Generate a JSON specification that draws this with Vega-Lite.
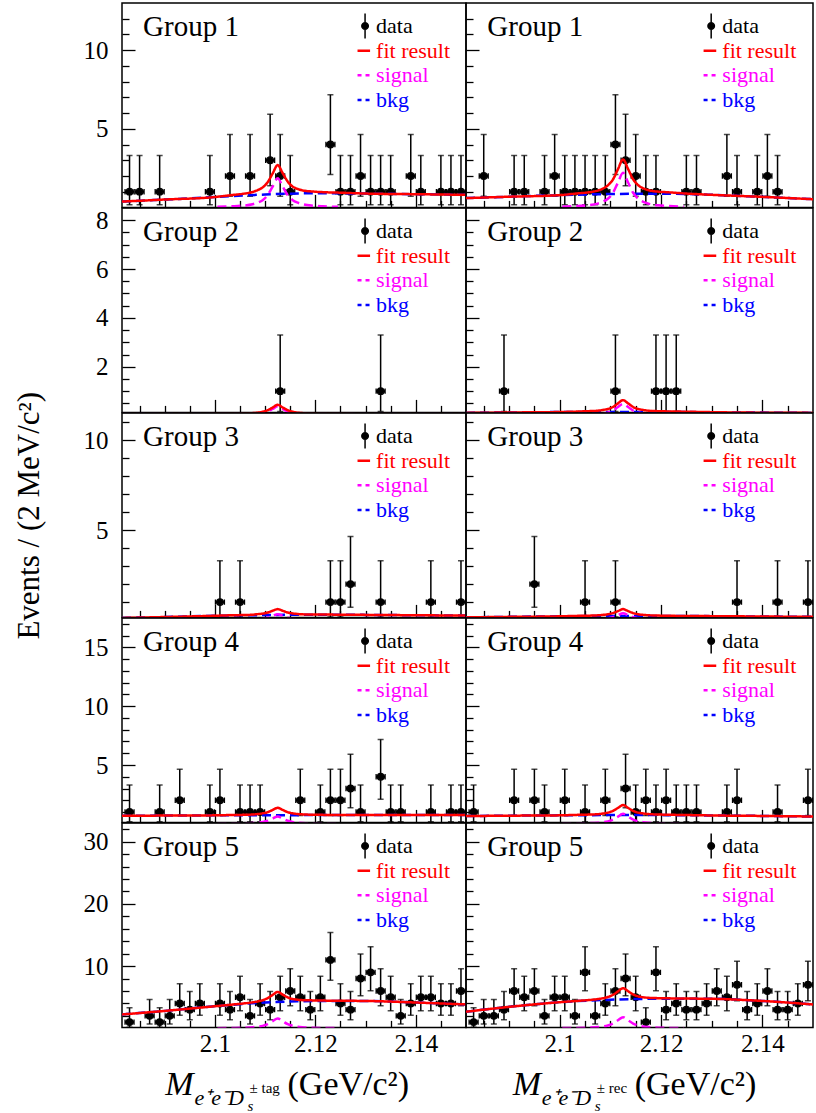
{
"$schema":"https://vega.github.io/schema/vega-lite/v6.json",
"background":"white",
"padding":{"left":12,"top":2,"right":0,"bottom":0},
"columns":2,
"spacing":0,
"bounds":"flush",
"datasets":{
"leg":[{"c":"data"},{"c":"fit result"},{"c":"signal"},{"c":"bkg"}],
"all":[
{"g":1,"s":"t","k":"p","m":2.083,"n":1,"lo":0.17,"hi":3.3},
{"g":1,"s":"t","k":"p","m":2.085,"n":1,"lo":0.17,"hi":3.3},
{"g":1,"s":"t","k":"p","m":2.089,"n":1,"lo":0.17,"hi":3.3},
{"g":1,"s":"t","k":"p","m":2.099,"n":1,"lo":0.17,"hi":3.3},
{"g":1,"s":"t","k":"p","m":2.103,"n":2,"lo":0.71,"hi":4.64},
{"g":1,"s":"t","k":"p","m":2.107,"n":2,"lo":0.71,"hi":4.64},
{"g":1,"s":"t","k":"p","m":2.111,"n":3,"lo":1.37,"hi":5.92},
{"g":1,"s":"t","k":"p","m":2.113,"n":2,"lo":0.71,"hi":4.64},
{"g":1,"s":"t","k":"p","m":2.115,"n":1,"lo":0.17,"hi":3.3},
{"g":1,"s":"t","k":"p","m":2.123,"n":4,"lo":2.09,"hi":7.16},
{"g":1,"s":"t","k":"p","m":2.125,"n":1,"lo":0.17,"hi":3.3},
{"g":1,"s":"t","k":"p","m":2.127,"n":1,"lo":0.17,"hi":3.3},
{"g":1,"s":"t","k":"p","m":2.129,"n":2,"lo":0.71,"hi":4.64},
{"g":1,"s":"t","k":"p","m":2.131,"n":1,"lo":0.17,"hi":3.3},
{"g":1,"s":"t","k":"p","m":2.133,"n":1,"lo":0.17,"hi":3.3},
{"g":1,"s":"t","k":"p","m":2.135,"n":1,"lo":0.17,"hi":3.3},
{"g":1,"s":"t","k":"p","m":2.139,"n":2,"lo":0.71,"hi":4.64},
{"g":1,"s":"t","k":"p","m":2.141,"n":1,"lo":0.17,"hi":3.3},
{"g":1,"s":"t","k":"p","m":2.145,"n":1,"lo":0.17,"hi":3.3},
{"g":1,"s":"t","k":"p","m":2.147,"n":1,"lo":0.17,"hi":3.3},
{"g":1,"s":"t","k":"p","m":2.149,"n":1,"lo":0.17,"hi":3.3},
{"g":1,"s":"t","k":"c","c":"bkg","m":2.0815,"v":0.37},
{"g":1,"s":"t","k":"c","c":"bkg","m":2.09,"v":0.5},
{"g":1,"s":"t","k":"c","c":"bkg","m":2.1,"v":0.66},
{"g":1,"s":"t","k":"c","c":"bkg","m":2.11,"v":0.82},
{"g":1,"s":"t","k":"c","c":"bkg","m":2.12,"v":0.9},
{"g":1,"s":"t","k":"c","c":"bkg","m":2.13,"v":0.88},
{"g":1,"s":"t","k":"c","c":"bkg","m":2.14,"v":0.84},
{"g":1,"s":"t","k":"c","c":"bkg","m":2.15,"v":0.8},
{"g":1,"s":"t","k":"c","c":"signal","m":2.1005,"v":0.04},
{"g":1,"s":"t","k":"c","c":"signal","m":2.1035,"v":0.07},
{"g":1,"s":"t","k":"c","c":"signal","m":2.1055,"v":0.11},
{"g":1,"s":"t","k":"c","c":"signal","m":2.1075,"v":0.2},
{"g":1,"s":"t","k":"c","c":"signal","m":2.1085,"v":0.3},
{"g":1,"s":"t","k":"c","c":"signal","m":2.1095,"v":0.46},
{"g":1,"s":"t","k":"c","c":"signal","m":2.1105,"v":0.78},
{"g":1,"s":"t","k":"c","c":"signal","m":2.1115,"v":1.33},
{"g":1,"s":"t","k":"c","c":"signal","m":2.1125,"v":1.85},
{"g":1,"s":"t","k":"c","c":"signal","m":2.1135,"v":1.33},
{"g":1,"s":"t","k":"c","c":"signal","m":2.1145,"v":0.78},
{"g":1,"s":"t","k":"c","c":"signal","m":2.1155,"v":0.46},
{"g":1,"s":"t","k":"c","c":"signal","m":2.1165,"v":0.3},
{"g":1,"s":"t","k":"c","c":"signal","m":2.1175,"v":0.2},
{"g":1,"s":"t","k":"c","c":"signal","m":2.1195,"v":0.11},
{"g":1,"s":"t","k":"c","c":"signal","m":2.1215,"v":0.07},
{"g":1,"s":"t","k":"c","c":"signal","m":2.1245,"v":0.04},
{"g":1,"s":"t","k":"c","c":"fit result","m":2.0815,"v":0.37},
{"g":1,"s":"t","k":"c","c":"fit result","m":2.09,"v":0.5},
{"g":1,"s":"t","k":"c","c":"fit result","m":2.1,"v":0.66},
{"g":1,"s":"t","k":"c","c":"fit result","m":2.1035,"v":0.79},
{"g":1,"s":"t","k":"c","c":"fit result","m":2.1055,"v":0.86},
{"g":1,"s":"t","k":"c","c":"fit result","m":2.1075,"v":0.98},
{"g":1,"s":"t","k":"c","c":"fit result","m":2.1085,"v":1.1},
{"g":1,"s":"t","k":"c","c":"fit result","m":2.1095,"v":1.27},
{"g":1,"s":"t","k":"c","c":"fit result","m":2.1105,"v":1.6},
{"g":1,"s":"t","k":"c","c":"fit result","m":2.1115,"v":2.16},
{"g":1,"s":"t","k":"c","c":"fit result","m":2.1125,"v":2.69},
{"g":1,"s":"t","k":"c","c":"fit result","m":2.1135,"v":2.18},
{"g":1,"s":"t","k":"c","c":"fit result","m":2.1145,"v":1.64},
{"g":1,"s":"t","k":"c","c":"fit result","m":2.1155,"v":1.32},
{"g":1,"s":"t","k":"c","c":"fit result","m":2.1165,"v":1.17},
{"g":1,"s":"t","k":"c","c":"fit result","m":2.1175,"v":1.08},
{"g":1,"s":"t","k":"c","c":"fit result","m":2.1195,"v":1.01},
{"g":1,"s":"t","k":"c","c":"fit result","m":2.1215,"v":0.97},
{"g":1,"s":"t","k":"c","c":"fit result","m":2.1245,"v":0.94},
{"g":1,"s":"t","k":"c","c":"fit result","m":2.13,"v":0.88},
{"g":1,"s":"t","k":"c","c":"fit result","m":2.14,"v":0.84},
{"g":1,"s":"t","k":"c","c":"fit result","m":2.15,"v":0.8},
{"g":1,"s":"r","k":"p","m":2.085,"n":2,"lo":0.71,"hi":4.64},
{"g":1,"s":"r","k":"p","m":2.091,"n":1,"lo":0.17,"hi":3.3},
{"g":1,"s":"r","k":"p","m":2.093,"n":1,"lo":0.17,"hi":3.3},
{"g":1,"s":"r","k":"p","m":2.097,"n":1,"lo":0.17,"hi":3.3},
{"g":1,"s":"r","k":"p","m":2.099,"n":2,"lo":0.71,"hi":4.64},
{"g":1,"s":"r","k":"p","m":2.101,"n":1,"lo":0.17,"hi":3.3},
{"g":1,"s":"r","k":"p","m":2.103,"n":1,"lo":0.17,"hi":3.3},
{"g":1,"s":"r","k":"p","m":2.105,"n":1,"lo":0.17,"hi":3.3},
{"g":1,"s":"r","k":"p","m":2.107,"n":1,"lo":0.17,"hi":3.3},
{"g":1,"s":"r","k":"p","m":2.109,"n":1,"lo":0.17,"hi":3.3},
{"g":1,"s":"r","k":"p","m":2.111,"n":4,"lo":2.09,"hi":7.16},
{"g":1,"s":"r","k":"p","m":2.113,"n":3,"lo":1.37,"hi":5.92},
{"g":1,"s":"r","k":"p","m":2.115,"n":2,"lo":0.71,"hi":4.64},
{"g":1,"s":"r","k":"p","m":2.117,"n":1,"lo":0.17,"hi":3.3},
{"g":1,"s":"r","k":"p","m":2.119,"n":1,"lo":0.17,"hi":3.3},
{"g":1,"s":"r","k":"p","m":2.125,"n":1,"lo":0.17,"hi":3.3},
{"g":1,"s":"r","k":"p","m":2.127,"n":1,"lo":0.17,"hi":3.3},
{"g":1,"s":"r","k":"p","m":2.133,"n":2,"lo":0.71,"hi":4.64},
{"g":1,"s":"r","k":"p","m":2.135,"n":1,"lo":0.17,"hi":3.3},
{"g":1,"s":"r","k":"p","m":2.139,"n":1,"lo":0.17,"hi":3.3},
{"g":1,"s":"r","k":"p","m":2.141,"n":2,"lo":0.71,"hi":4.64},
{"g":1,"s":"r","k":"p","m":2.143,"n":1,"lo":0.17,"hi":3.3},
{"g":1,"s":"r","k":"c","c":"bkg","m":2.0815,"v":0.59},
{"g":1,"s":"r","k":"c","c":"bkg","m":2.09,"v":0.68},
{"g":1,"s":"r","k":"c","c":"bkg","m":2.1,"v":0.78},
{"g":1,"s":"r","k":"c","c":"bkg","m":2.11,"v":0.85},
{"g":1,"s":"r","k":"c","c":"bkg","m":2.12,"v":0.87},
{"g":1,"s":"r","k":"c","c":"bkg","m":2.125,"v":0.85},
{"g":1,"s":"r","k":"c","c":"bkg","m":2.13,"v":0.8},
{"g":1,"s":"r","k":"c","c":"bkg","m":2.14,"v":0.67},
{"g":1,"s":"r","k":"c","c":"bkg","m":2.15,"v":0.52},
{"g":1,"s":"r","k":"c","c":"signal","m":2.1005,"v":0.04},
{"g":1,"s":"r","k":"c","c":"signal","m":2.1035,"v":0.09},
{"g":1,"s":"r","k":"c","c":"signal","m":2.1055,"v":0.13},
{"g":1,"s":"r","k":"c","c":"signal","m":2.1075,"v":0.24},
{"g":1,"s":"r","k":"c","c":"signal","m":2.1085,"v":0.35},
{"g":1,"s":"r","k":"c","c":"signal","m":2.1095,"v":0.55},
{"g":1,"s":"r","k":"c","c":"signal","m":2.1105,"v":0.92},
{"g":1,"s":"r","k":"c","c":"signal","m":2.1115,"v":1.58},
{"g":1,"s":"r","k":"c","c":"signal","m":2.1125,"v":2.2},
{"g":1,"s":"r","k":"c","c":"signal","m":2.1135,"v":1.58},
{"g":1,"s":"r","k":"c","c":"signal","m":2.1145,"v":0.92},
{"g":1,"s":"r","k":"c","c":"signal","m":2.1155,"v":0.55},
{"g":1,"s":"r","k":"c","c":"signal","m":2.1165,"v":0.35},
{"g":1,"s":"r","k":"c","c":"signal","m":2.1175,"v":0.24},
{"g":1,"s":"r","k":"c","c":"signal","m":2.1195,"v":0.13},
{"g":1,"s":"r","k":"c","c":"signal","m":2.1215,"v":0.09},
{"g":1,"s":"r","k":"c","c":"signal","m":2.1245,"v":0.04},
{"g":1,"s":"r","k":"c","c":"fit result","m":2.0815,"v":0.59},
{"g":1,"s":"r","k":"c","c":"fit result","m":2.09,"v":0.68},
{"g":1,"s":"r","k":"c","c":"fit result","m":2.1,"v":0.78},
{"g":1,"s":"r","k":"c","c":"fit result","m":2.1035,"v":0.89},
{"g":1,"s":"r","k":"c","c":"fit result","m":2.1055,"v":0.95},
{"g":1,"s":"r","k":"c","c":"fit result","m":2.1075,"v":1.07},
{"g":1,"s":"r","k":"c","c":"fit result","m":2.1085,"v":1.19},
{"g":1,"s":"r","k":"c","c":"fit result","m":2.1095,"v":1.4},
{"g":1,"s":"r","k":"c","c":"fit result","m":2.1105,"v":1.77},
{"g":1,"s":"r","k":"c","c":"fit result","m":2.1115,"v":2.43},
{"g":1,"s":"r","k":"c","c":"fit result","m":2.1125,"v":3.05},
{"g":1,"s":"r","k":"c","c":"fit result","m":2.1135,"v":2.44},
{"g":1,"s":"r","k":"c","c":"fit result","m":2.1145,"v":1.78},
{"g":1,"s":"r","k":"c","c":"fit result","m":2.1155,"v":1.41},
{"g":1,"s":"r","k":"c","c":"fit result","m":2.1165,"v":1.21},
{"g":1,"s":"r","k":"c","c":"fit result","m":2.1175,"v":1.1},
{"g":1,"s":"r","k":"c","c":"fit result","m":2.1195,"v":1.0},
{"g":1,"s":"r","k":"c","c":"fit result","m":2.1215,"v":0.96},
{"g":1,"s":"r","k":"c","c":"fit result","m":2.1245,"v":0.89},
{"g":1,"s":"r","k":"c","c":"fit result","m":2.13,"v":0.8},
{"g":1,"s":"r","k":"c","c":"fit result","m":2.14,"v":0.67},
{"g":1,"s":"r","k":"c","c":"fit result","m":2.15,"v":0.52},
{"g":2,"s":"t","k":"p","m":2.113,"n":1,"lo":0.17,"hi":3.3},
{"g":2,"s":"t","k":"p","m":2.133,"n":1,"lo":0.17,"hi":3.3},
{"g":2,"s":"t","k":"c","c":"bkg","m":2.0815,"v":0.06},
{"g":2,"s":"t","k":"c","c":"bkg","m":2.15,"v":0.06},
{"g":2,"s":"t","k":"c","c":"signal","m":2.1055,"v":0.023},
{"g":2,"s":"t","k":"c","c":"signal","m":2.1075,"v":0.042},
{"g":2,"s":"t","k":"c","c":"signal","m":2.1085,"v":0.061},
{"g":2,"s":"t","k":"c","c":"signal","m":2.1095,"v":0.095},
{"g":2,"s":"t","k":"c","c":"signal","m":2.1105,"v":0.16},
{"g":2,"s":"t","k":"c","c":"signal","m":2.1115,"v":0.27},
{"g":2,"s":"t","k":"c","c":"signal","m":2.1125,"v":0.38},
{"g":2,"s":"t","k":"c","c":"signal","m":2.1135,"v":0.27},
{"g":2,"s":"t","k":"c","c":"signal","m":2.1145,"v":0.16},
{"g":2,"s":"t","k":"c","c":"signal","m":2.1155,"v":0.095},
{"g":2,"s":"t","k":"c","c":"signal","m":2.1165,"v":0.061},
{"g":2,"s":"t","k":"c","c":"signal","m":2.1175,"v":0.042},
{"g":2,"s":"t","k":"c","c":"signal","m":2.1195,"v":0.023},
{"g":2,"s":"t","k":"c","c":"fit result","m":2.0815,"v":0.06},
{"g":2,"s":"t","k":"c","c":"fit result","m":2.1035,"v":0.075},
{"g":2,"s":"t","k":"c","c":"fit result","m":2.1055,"v":0.083},
{"g":2,"s":"t","k":"c","c":"fit result","m":2.1075,"v":0.1},
{"g":2,"s":"t","k":"c","c":"fit result","m":2.1085,"v":0.12},
{"g":2,"s":"t","k":"c","c":"fit result","m":2.1095,"v":0.155},
{"g":2,"s":"t","k":"c","c":"fit result","m":2.1105,"v":0.22},
{"g":2,"s":"t","k":"c","c":"fit result","m":2.1115,"v":0.33},
{"g":2,"s":"t","k":"c","c":"fit result","m":2.1125,"v":0.44},
{"g":2,"s":"t","k":"c","c":"fit result","m":2.1135,"v":0.33},
{"g":2,"s":"t","k":"c","c":"fit result","m":2.1145,"v":0.22},
{"g":2,"s":"t","k":"c","c":"fit result","m":2.1155,"v":0.155},
{"g":2,"s":"t","k":"c","c":"fit result","m":2.1165,"v":0.12},
{"g":2,"s":"t","k":"c","c":"fit result","m":2.1175,"v":0.1},
{"g":2,"s":"t","k":"c","c":"fit result","m":2.1195,"v":0.083},
{"g":2,"s":"t","k":"c","c":"fit result","m":2.1215,"v":0.075},
{"g":2,"s":"t","k":"c","c":"fit result","m":2.15,"v":0.06},
{"g":2,"s":"r","k":"p","m":2.089,"n":1,"lo":0.17,"hi":3.3},
{"g":2,"s":"r","k":"p","m":2.111,"n":1,"lo":0.17,"hi":3.3},
{"g":2,"s":"r","k":"p","m":2.119,"n":1,"lo":0.17,"hi":3.3},
{"g":2,"s":"r","k":"p","m":2.121,"n":1,"lo":0.17,"hi":3.3},
{"g":2,"s":"r","k":"p","m":2.123,"n":1,"lo":0.17,"hi":3.3},
{"g":2,"s":"r","k":"c","c":"bkg","m":2.0815,"v":0.11},
{"g":2,"s":"r","k":"c","c":"bkg","m":2.092,"v":0.13},
{"g":2,"s":"r","k":"c","c":"bkg","m":2.1,"v":0.145},
{"g":2,"s":"r","k":"c","c":"bkg","m":2.11,"v":0.15},
{"g":2,"s":"r","k":"c","c":"bkg","m":2.12,"v":0.15},
{"g":2,"s":"r","k":"c","c":"bkg","m":2.1335,"v":0.13},
{"g":2,"s":"r","k":"c","c":"bkg","m":2.15,"v":0.11},
{"g":2,"s":"r","k":"c","c":"signal","m":2.1055,"v":0.03},
{"g":2,"s":"r","k":"c","c":"signal","m":2.1075,"v":0.05},
{"g":2,"s":"r","k":"c","c":"signal","m":2.1085,"v":0.08},
{"g":2,"s":"r","k":"c","c":"signal","m":2.1095,"v":0.12},
{"g":2,"s":"r","k":"c","c":"signal","m":2.1105,"v":0.2},
{"g":2,"s":"r","k":"c","c":"signal","m":2.1115,"v":0.35},
{"g":2,"s":"r","k":"c","c":"signal","m":2.1125,"v":0.48},
{"g":2,"s":"r","k":"c","c":"signal","m":2.1135,"v":0.35},
{"g":2,"s":"r","k":"c","c":"signal","m":2.1145,"v":0.2},
{"g":2,"s":"r","k":"c","c":"signal","m":2.1155,"v":0.12},
{"g":2,"s":"r","k":"c","c":"signal","m":2.1165,"v":0.08},
{"g":2,"s":"r","k":"c","c":"signal","m":2.1175,"v":0.05},
{"g":2,"s":"r","k":"c","c":"signal","m":2.1195,"v":0.03},
{"g":2,"s":"r","k":"c","c":"fit result","m":2.0815,"v":0.11},
{"g":2,"s":"r","k":"c","c":"fit result","m":2.092,"v":0.13},
{"g":2,"s":"r","k":"c","c":"fit result","m":2.1,"v":0.145},
{"g":2,"s":"r","k":"c","c":"fit result","m":2.1035,"v":0.165},
{"g":2,"s":"r","k":"c","c":"fit result","m":2.1055,"v":0.18},
{"g":2,"s":"r","k":"c","c":"fit result","m":2.1075,"v":0.2},
{"g":2,"s":"r","k":"c","c":"fit result","m":2.1085,"v":0.23},
{"g":2,"s":"r","k":"c","c":"fit result","m":2.1095,"v":0.27},
{"g":2,"s":"r","k":"c","c":"fit result","m":2.1105,"v":0.35},
{"g":2,"s":"r","k":"c","c":"fit result","m":2.1115,"v":0.5},
{"g":2,"s":"r","k":"c","c":"fit result","m":2.1125,"v":0.63},
{"g":2,"s":"r","k":"c","c":"fit result","m":2.1135,"v":0.5},
{"g":2,"s":"r","k":"c","c":"fit result","m":2.1145,"v":0.35},
{"g":2,"s":"r","k":"c","c":"fit result","m":2.1155,"v":0.27},
{"g":2,"s":"r","k":"c","c":"fit result","m":2.1165,"v":0.23},
{"g":2,"s":"r","k":"c","c":"fit result","m":2.1175,"v":0.2},
{"g":2,"s":"r","k":"c","c":"fit result","m":2.1195,"v":0.18},
{"g":2,"s":"r","k":"c","c":"fit result","m":2.1215,"v":0.17},
{"g":2,"s":"r","k":"c","c":"fit result","m":2.1245,"v":0.16},
{"g":2,"s":"r","k":"c","c":"fit result","m":2.1335,"v":0.13},
{"g":2,"s":"r","k":"c","c":"fit result","m":2.15,"v":0.11},
{"g":3,"s":"t","k":"p","m":2.101,"n":1,"lo":0.17,"hi":3.3},
{"g":3,"s":"t","k":"p","m":2.105,"n":1,"lo":0.17,"hi":3.3},
{"g":3,"s":"t","k":"p","m":2.123,"n":1,"lo":0.17,"hi":3.3},
{"g":3,"s":"t","k":"p","m":2.125,"n":1,"lo":0.17,"hi":3.3},
{"g":3,"s":"t","k":"p","m":2.127,"n":2,"lo":0.71,"hi":4.64},
{"g":3,"s":"t","k":"p","m":2.133,"n":1,"lo":0.17,"hi":3.3},
{"g":3,"s":"t","k":"p","m":2.143,"n":1,"lo":0.17,"hi":3.3},
{"g":3,"s":"t","k":"p","m":2.149,"n":1,"lo":0.17,"hi":3.3},
{"g":3,"s":"t","k":"c","c":"bkg","m":2.0815,"v":0.12},
{"g":3,"s":"t","k":"c","c":"bkg","m":2.09,"v":0.17},
{"g":3,"s":"t","k":"c","c":"bkg","m":2.1,"v":0.24},
{"g":3,"s":"t","k":"c","c":"bkg","m":2.11,"v":0.28},
{"g":3,"s":"t","k":"c","c":"bkg","m":2.12,"v":0.3},
{"g":3,"s":"t","k":"c","c":"bkg","m":2.13,"v":0.29},
{"g":3,"s":"t","k":"c","c":"bkg","m":2.14,"v":0.27},
{"g":3,"s":"t","k":"c","c":"bkg","m":2.15,"v":0.25},
{"g":3,"s":"t","k":"c","c":"signal","m":2.1035,"v":0.013},
{"g":3,"s":"t","k":"c","c":"signal","m":2.1055,"v":0.02},
{"g":3,"s":"t","k":"c","c":"signal","m":2.1075,"v":0.036},
{"g":3,"s":"t","k":"c","c":"signal","m":2.1085,"v":0.053},
{"g":3,"s":"t","k":"c","c":"signal","m":2.1095,"v":0.083},
{"g":3,"s":"t","k":"c","c":"signal","m":2.1105,"v":0.14},
{"g":3,"s":"t","k":"c","c":"signal","m":2.1115,"v":0.24},
{"g":3,"s":"t","k":"c","c":"signal","m":2.1125,"v":0.33},
{"g":3,"s":"t","k":"c","c":"signal","m":2.1135,"v":0.24},
{"g":3,"s":"t","k":"c","c":"signal","m":2.1145,"v":0.14},
{"g":3,"s":"t","k":"c","c":"signal","m":2.1155,"v":0.083},
{"g":3,"s":"t","k":"c","c":"signal","m":2.1165,"v":0.053},
{"g":3,"s":"t","k":"c","c":"signal","m":2.1175,"v":0.036},
{"g":3,"s":"t","k":"c","c":"signal","m":2.1195,"v":0.02},
{"g":3,"s":"t","k":"c","c":"signal","m":2.1215,"v":0.013},
{"g":3,"s":"t","k":"c","c":"fit result","m":2.0815,"v":0.12},
{"g":3,"s":"t","k":"c","c":"fit result","m":2.09,"v":0.17},
{"g":3,"s":"t","k":"c","c":"fit result","m":2.1,"v":0.24},
{"g":3,"s":"t","k":"c","c":"fit result","m":2.1035,"v":0.27},
{"g":3,"s":"t","k":"c","c":"fit result","m":2.1055,"v":0.28},
{"g":3,"s":"t","k":"c","c":"fit result","m":2.1075,"v":0.3},
{"g":3,"s":"t","k":"c","c":"fit result","m":2.1085,"v":0.33},
{"g":3,"s":"t","k":"c","c":"fit result","m":2.1095,"v":0.36},
{"g":3,"s":"t","k":"c","c":"fit result","m":2.1105,"v":0.42},
{"g":3,"s":"t","k":"c","c":"fit result","m":2.1115,"v":0.52},
{"g":3,"s":"t","k":"c","c":"fit result","m":2.1125,"v":0.61},
{"g":3,"s":"t","k":"c","c":"fit result","m":2.1135,"v":0.52},
{"g":3,"s":"t","k":"c","c":"fit result","m":2.1145,"v":0.42},
{"g":3,"s":"t","k":"c","c":"fit result","m":2.1155,"v":0.37},
{"g":3,"s":"t","k":"c","c":"fit result","m":2.1165,"v":0.34},
{"g":3,"s":"t","k":"c","c":"fit result","m":2.1175,"v":0.32},
{"g":3,"s":"t","k":"c","c":"fit result","m":2.1195,"v":0.31},
{"g":3,"s":"t","k":"c","c":"fit result","m":2.1215,"v":0.31},
{"g":3,"s":"t","k":"c","c":"fit result","m":2.1245,"v":0.3},
{"g":3,"s":"t","k":"c","c":"fit result","m":2.13,"v":0.29},
{"g":3,"s":"t","k":"c","c":"fit result","m":2.14,"v":0.27},
{"g":3,"s":"t","k":"c","c":"fit result","m":2.15,"v":0.25},
{"g":3,"s":"r","k":"p","m":2.095,"n":2,"lo":0.71,"hi":4.64},
{"g":3,"s":"r","k":"p","m":2.105,"n":1,"lo":0.17,"hi":3.3},
{"g":3,"s":"r","k":"p","m":2.111,"n":1,"lo":0.17,"hi":3.3},
{"g":3,"s":"r","k":"p","m":2.135,"n":1,"lo":0.17,"hi":3.3},
{"g":3,"s":"r","k":"p","m":2.143,"n":1,"lo":0.17,"hi":3.3},
{"g":3,"s":"r","k":"p","m":2.149,"n":1,"lo":0.17,"hi":3.3},
{"g":3,"s":"r","k":"c","c":"bkg","m":2.0815,"v":0.15},
{"g":3,"s":"r","k":"c","c":"bkg","m":2.09,"v":0.18},
{"g":3,"s":"r","k":"c","c":"bkg","m":2.1,"v":0.21},
{"g":3,"s":"r","k":"c","c":"bkg","m":2.11,"v":0.23},
{"g":3,"s":"r","k":"c","c":"bkg","m":2.12,"v":0.23},
{"g":3,"s":"r","k":"c","c":"bkg","m":2.13,"v":0.22},
{"g":3,"s":"r","k":"c","c":"bkg","m":2.14,"v":0.2},
{"g":3,"s":"r","k":"c","c":"bkg","m":2.15,"v":0.18},
{"g":3,"s":"r","k":"c","c":"signal","m":2.1035,"v":0.015},
{"g":3,"s":"r","k":"c","c":"signal","m":2.1055,"v":0.023},
{"g":3,"s":"r","k":"c","c":"signal","m":2.1075,"v":0.042},
{"g":3,"s":"r","k":"c","c":"signal","m":2.1085,"v":0.061},
{"g":3,"s":"r","k":"c","c":"signal","m":2.1095,"v":0.095},
{"g":3,"s":"r","k":"c","c":"signal","m":2.1105,"v":0.16},
{"g":3,"s":"r","k":"c","c":"signal","m":2.1115,"v":0.27},
{"g":3,"s":"r","k":"c","c":"signal","m":2.1125,"v":0.38},
{"g":3,"s":"r","k":"c","c":"signal","m":2.1135,"v":0.27},
{"g":3,"s":"r","k":"c","c":"signal","m":2.1145,"v":0.16},
{"g":3,"s":"r","k":"c","c":"signal","m":2.1155,"v":0.095},
{"g":3,"s":"r","k":"c","c":"signal","m":2.1165,"v":0.061},
{"g":3,"s":"r","k":"c","c":"signal","m":2.1175,"v":0.042},
{"g":3,"s":"r","k":"c","c":"signal","m":2.1195,"v":0.023},
{"g":3,"s":"r","k":"c","c":"signal","m":2.1215,"v":0.015},
{"g":3,"s":"r","k":"c","c":"fit result","m":2.0815,"v":0.15},
{"g":3,"s":"r","k":"c","c":"fit result","m":2.09,"v":0.18},
{"g":3,"s":"r","k":"c","c":"fit result","m":2.1,"v":0.21},
{"g":3,"s":"r","k":"c","c":"fit result","m":2.1035,"v":0.235},
{"g":3,"s":"r","k":"c","c":"fit result","m":2.1055,"v":0.245},
{"g":3,"s":"r","k":"c","c":"fit result","m":2.1075,"v":0.265},
{"g":3,"s":"r","k":"c","c":"fit result","m":2.1085,"v":0.29},
{"g":3,"s":"r","k":"c","c":"fit result","m":2.1095,"v":0.325},
{"g":3,"s":"r","k":"c","c":"fit result","m":2.1105,"v":0.39},
{"g":3,"s":"r","k":"c","c":"fit result","m":2.1115,"v":0.5},
{"g":3,"s":"r","k":"c","c":"fit result","m":2.1125,"v":0.61},
{"g":3,"s":"r","k":"c","c":"fit result","m":2.1135,"v":0.5},
{"g":3,"s":"r","k":"c","c":"fit result","m":2.1145,"v":0.39},
{"g":3,"s":"r","k":"c","c":"fit result","m":2.1155,"v":0.325},
{"g":3,"s":"r","k":"c","c":"fit result","m":2.1165,"v":0.29},
{"g":3,"s":"r","k":"c","c":"fit result","m":2.1175,"v":0.27},
{"g":3,"s":"r","k":"c","c":"fit result","m":2.1195,"v":0.25},
{"g":3,"s":"r","k":"c","c":"fit result","m":2.1215,"v":0.24},
{"g":3,"s":"r","k":"c","c":"fit result","m":2.1245,"v":0.23},
{"g":3,"s":"r","k":"c","c":"fit result","m":2.13,"v":0.22},
{"g":3,"s":"r","k":"c","c":"fit result","m":2.14,"v":0.2},
{"g":3,"s":"r","k":"c","c":"fit result","m":2.15,"v":0.18},
{"g":4,"s":"t","k":"p","m":2.083,"n":1,"lo":0.17,"hi":3.3},
{"g":4,"s":"t","k":"p","m":2.089,"n":1,"lo":0.17,"hi":3.3},
{"g":4,"s":"t","k":"p","m":2.093,"n":2,"lo":0.71,"hi":4.64},
{"g":4,"s":"t","k":"p","m":2.099,"n":1,"lo":0.17,"hi":3.3},
{"g":4,"s":"t","k":"p","m":2.101,"n":2,"lo":0.71,"hi":4.64},
{"g":4,"s":"t","k":"p","m":2.105,"n":1,"lo":0.17,"hi":3.3},
{"g":4,"s":"t","k":"p","m":2.107,"n":1,"lo":0.17,"hi":3.3},
{"g":4,"s":"t","k":"p","m":2.109,"n":1,"lo":0.17,"hi":3.3},
{"g":4,"s":"t","k":"p","m":2.117,"n":2,"lo":0.71,"hi":4.64},
{"g":4,"s":"t","k":"p","m":2.121,"n":1,"lo":0.17,"hi":3.3},
{"g":4,"s":"t","k":"p","m":2.123,"n":2,"lo":0.71,"hi":4.64},
{"g":4,"s":"t","k":"p","m":2.125,"n":2,"lo":0.71,"hi":4.64},
{"g":4,"s":"t","k":"p","m":2.127,"n":3,"lo":1.37,"hi":5.92},
{"g":4,"s":"t","k":"p","m":2.129,"n":1,"lo":0.17,"hi":3.3},
{"g":4,"s":"t","k":"p","m":2.133,"n":4,"lo":2.09,"hi":7.16},
{"g":4,"s":"t","k":"p","m":2.135,"n":1,"lo":0.17,"hi":3.3},
{"g":4,"s":"t","k":"p","m":2.137,"n":1,"lo":0.17,"hi":3.3},
{"g":4,"s":"t","k":"p","m":2.143,"n":1,"lo":0.17,"hi":3.3},
{"g":4,"s":"t","k":"p","m":2.147,"n":1,"lo":0.17,"hi":3.3},
{"g":4,"s":"t","k":"p","m":2.149,"n":1,"lo":0.17,"hi":3.3},
{"g":4,"s":"t","k":"c","c":"bkg","m":2.0815,"v":0.68},
{"g":4,"s":"t","k":"c","c":"bkg","m":2.09,"v":0.7},
{"g":4,"s":"t","k":"c","c":"bkg","m":2.1,"v":0.72},
{"g":4,"s":"t","k":"c","c":"bkg","m":2.11,"v":0.73},
{"g":4,"s":"t","k":"c","c":"bkg","m":2.12,"v":0.74},
{"g":4,"s":"t","k":"c","c":"bkg","m":2.15,"v":0.74},
{"g":4,"s":"t","k":"c","c":"signal","m":2.1005,"v":0.013},
{"g":4,"s":"t","k":"c","c":"signal","m":2.1035,"v":0.025},
{"g":4,"s":"t","k":"c","c":"signal","m":2.1055,"v":0.038},
{"g":4,"s":"t","k":"c","c":"signal","m":2.1075,"v":0.069},
{"g":4,"s":"t","k":"c","c":"signal","m":2.1085,"v":0.1},
{"g":4,"s":"t","k":"c","c":"signal","m":2.1095,"v":0.16},
{"g":4,"s":"t","k":"c","c":"signal","m":2.1105,"v":0.26},
{"g":4,"s":"t","k":"c","c":"signal","m":2.1115,"v":0.45},
{"g":4,"s":"t","k":"c","c":"signal","m":2.1125,"v":0.63},
{"g":4,"s":"t","k":"c","c":"signal","m":2.1135,"v":0.45},
{"g":4,"s":"t","k":"c","c":"signal","m":2.1145,"v":0.26},
{"g":4,"s":"t","k":"c","c":"signal","m":2.1155,"v":0.16},
{"g":4,"s":"t","k":"c","c":"signal","m":2.1165,"v":0.1},
{"g":4,"s":"t","k":"c","c":"signal","m":2.1175,"v":0.069},
{"g":4,"s":"t","k":"c","c":"signal","m":2.1195,"v":0.038},
{"g":4,"s":"t","k":"c","c":"signal","m":2.1215,"v":0.025},
{"g":4,"s":"t","k":"c","c":"signal","m":2.1245,"v":0.013},
{"g":4,"s":"t","k":"c","c":"fit result","m":2.0815,"v":0.68},
{"g":4,"s":"t","k":"c","c":"fit result","m":2.09,"v":0.7},
{"g":4,"s":"t","k":"c","c":"fit result","m":2.1,"v":0.72},
{"g":4,"s":"t","k":"c","c":"fit result","m":2.1035,"v":0.75},
{"g":4,"s":"t","k":"c","c":"fit result","m":2.1055,"v":0.76},
{"g":4,"s":"t","k":"c","c":"fit result","m":2.1075,"v":0.79},
{"g":4,"s":"t","k":"c","c":"fit result","m":2.1085,"v":0.83},
{"g":4,"s":"t","k":"c","c":"fit result","m":2.1095,"v":0.89},
{"g":4,"s":"t","k":"c","c":"fit result","m":2.1105,"v":0.99},
{"g":4,"s":"t","k":"c","c":"fit result","m":2.1115,"v":1.18},
{"g":4,"s":"t","k":"c","c":"fit result","m":2.1125,"v":1.36},
{"g":4,"s":"t","k":"c","c":"fit result","m":2.1135,"v":1.18},
{"g":4,"s":"t","k":"c","c":"fit result","m":2.1145,"v":0.99},
{"g":4,"s":"t","k":"c","c":"fit result","m":2.1155,"v":0.89},
{"g":4,"s":"t","k":"c","c":"fit result","m":2.1165,"v":0.83},
{"g":4,"s":"t","k":"c","c":"fit result","m":2.1175,"v":0.8},
{"g":4,"s":"t","k":"c","c":"fit result","m":2.1195,"v":0.77},
{"g":4,"s":"t","k":"c","c":"fit result","m":2.1215,"v":0.76},
{"g":4,"s":"t","k":"c","c":"fit result","m":2.1245,"v":0.75},
{"g":4,"s":"t","k":"c","c":"fit result","m":2.13,"v":0.74},
{"g":4,"s":"t","k":"c","c":"fit result","m":2.15,"v":0.74},
{"g":4,"s":"r","k":"p","m":2.083,"n":1,"lo":0.17,"hi":3.3},
{"g":4,"s":"r","k":"p","m":2.091,"n":2,"lo":0.71,"hi":4.64},
{"g":4,"s":"r","k":"p","m":2.095,"n":2,"lo":0.71,"hi":4.64},
{"g":4,"s":"r","k":"p","m":2.097,"n":1,"lo":0.17,"hi":3.3},
{"g":4,"s":"r","k":"p","m":2.101,"n":2,"lo":0.71,"hi":4.64},
{"g":4,"s":"r","k":"p","m":2.105,"n":1,"lo":0.17,"hi":3.3},
{"g":4,"s":"r","k":"p","m":2.109,"n":2,"lo":0.71,"hi":4.64},
{"g":4,"s":"r","k":"p","m":2.113,"n":3,"lo":1.37,"hi":5.92},
{"g":4,"s":"r","k":"p","m":2.115,"n":1,"lo":0.17,"hi":3.3},
{"g":4,"s":"r","k":"p","m":2.117,"n":2,"lo":0.71,"hi":4.64},
{"g":4,"s":"r","k":"p","m":2.119,"n":1,"lo":0.17,"hi":3.3},
{"g":4,"s":"r","k":"p","m":2.121,"n":2,"lo":0.71,"hi":4.64},
{"g":4,"s":"r","k":"p","m":2.123,"n":1,"lo":0.17,"hi":3.3},
{"g":4,"s":"r","k":"p","m":2.125,"n":1,"lo":0.17,"hi":3.3},
{"g":4,"s":"r","k":"p","m":2.127,"n":1,"lo":0.17,"hi":3.3},
{"g":4,"s":"r","k":"p","m":2.133,"n":1,"lo":0.17,"hi":3.3},
{"g":4,"s":"r","k":"p","m":2.135,"n":2,"lo":0.71,"hi":4.64},
{"g":4,"s":"r","k":"p","m":2.143,"n":1,"lo":0.17,"hi":3.3},
{"g":4,"s":"r","k":"p","m":2.149,"n":2,"lo":0.71,"hi":4.64},
{"g":4,"s":"r","k":"c","c":"bkg","m":2.0815,"v":0.66},
{"g":4,"s":"r","k":"c","c":"bkg","m":2.09,"v":0.69},
{"g":4,"s":"r","k":"c","c":"bkg","m":2.1,"v":0.72},
{"g":4,"s":"r","k":"c","c":"bkg","m":2.11,"v":0.74},
{"g":4,"s":"r","k":"c","c":"bkg","m":2.12,"v":0.74},
{"g":4,"s":"r","k":"c","c":"bkg","m":2.13,"v":0.71},
{"g":4,"s":"r","k":"c","c":"bkg","m":2.14,"v":0.67},
{"g":4,"s":"r","k":"c","c":"bkg","m":2.15,"v":0.62},
{"g":4,"s":"r","k":"c","c":"signal","m":2.1005,"v":0.017},
{"g":4,"s":"r","k":"c","c":"signal","m":2.1035,"v":0.034},
{"g":4,"s":"r","k":"c","c":"signal","m":2.1055,"v":0.051},
{"g":4,"s":"r","k":"c","c":"signal","m":2.1075,"v":0.094},
{"g":4,"s":"r","k":"c","c":"signal","m":2.1085,"v":0.136},
{"g":4,"s":"r","k":"c","c":"signal","m":2.1095,"v":0.21},
{"g":4,"s":"r","k":"c","c":"signal","m":2.1105,"v":0.36},
{"g":4,"s":"r","k":"c","c":"signal","m":2.1115,"v":0.61},
{"g":4,"s":"r","k":"c","c":"signal","m":2.1125,"v":0.85},
{"g":4,"s":"r","k":"c","c":"signal","m":2.1135,"v":0.61},
{"g":4,"s":"r","k":"c","c":"signal","m":2.1145,"v":0.36},
{"g":4,"s":"r","k":"c","c":"signal","m":2.1155,"v":0.21},
{"g":4,"s":"r","k":"c","c":"signal","m":2.1165,"v":0.136},
{"g":4,"s":"r","k":"c","c":"signal","m":2.1175,"v":0.094},
{"g":4,"s":"r","k":"c","c":"signal","m":2.1195,"v":0.051},
{"g":4,"s":"r","k":"c","c":"signal","m":2.1215,"v":0.034},
{"g":4,"s":"r","k":"c","c":"signal","m":2.1245,"v":0.017},
{"g":4,"s":"r","k":"c","c":"fit result","m":2.0815,"v":0.66},
{"g":4,"s":"r","k":"c","c":"fit result","m":2.09,"v":0.69},
{"g":4,"s":"r","k":"c","c":"fit result","m":2.1,"v":0.72},
{"g":4,"s":"r","k":"c","c":"fit result","m":2.1035,"v":0.76},
{"g":4,"s":"r","k":"c","c":"fit result","m":2.1055,"v":0.78},
{"g":4,"s":"r","k":"c","c":"fit result","m":2.1075,"v":0.82},
{"g":4,"s":"r","k":"c","c":"fit result","m":2.1085,"v":0.87},
{"g":4,"s":"r","k":"c","c":"fit result","m":2.1095,"v":0.95},
{"g":4,"s":"r","k":"c","c":"fit result","m":2.1105,"v":1.1},
{"g":4,"s":"r","k":"c","c":"fit result","m":2.1115,"v":1.35},
{"g":4,"s":"r","k":"c","c":"fit result","m":2.1125,"v":1.59},
{"g":4,"s":"r","k":"c","c":"fit result","m":2.1135,"v":1.35},
{"g":4,"s":"r","k":"c","c":"fit result","m":2.1145,"v":1.1},
{"g":4,"s":"r","k":"c","c":"fit result","m":2.1155,"v":0.95},
{"g":4,"s":"r","k":"c","c":"fit result","m":2.1165,"v":0.88},
{"g":4,"s":"r","k":"c","c":"fit result","m":2.1175,"v":0.83},
{"g":4,"s":"r","k":"c","c":"fit result","m":2.1195,"v":0.79},
{"g":4,"s":"r","k":"c","c":"fit result","m":2.1215,"v":0.77},
{"g":4,"s":"r","k":"c","c":"fit result","m":2.1245,"v":0.75},
{"g":4,"s":"r","k":"c","c":"fit result","m":2.13,"v":0.71},
{"g":4,"s":"r","k":"c","c":"fit result","m":2.14,"v":0.67},
{"g":4,"s":"r","k":"c","c":"fit result","m":2.15,"v":0.62},
{"g":5,"s":"t","k":"p","m":2.083,"n":1,"lo":0.17,"hi":3.3},
{"g":5,"s":"t","k":"p","m":2.087,"n":2,"lo":0.71,"hi":4.64},
{"g":5,"s":"t","k":"p","m":2.089,"n":1,"lo":0.17,"hi":3.3},
{"g":5,"s":"t","k":"p","m":2.091,"n":2,"lo":0.71,"hi":4.64},
{"g":5,"s":"t","k":"p","m":2.093,"n":4,"lo":2.09,"hi":7.16},
{"g":5,"s":"t","k":"p","m":2.095,"n":3,"lo":1.37,"hi":5.92},
{"g":5,"s":"t","k":"p","m":2.097,"n":4,"lo":2.09,"hi":7.16},
{"g":5,"s":"t","k":"p","m":2.101,"n":4,"lo":2.09,"hi":7.16},
{"g":5,"s":"t","k":"p","m":2.103,"n":3,"lo":1.37,"hi":5.92},
{"g":5,"s":"t","k":"p","m":2.105,"n":5,"lo":2.84,"hi":8.38},
{"g":5,"s":"t","k":"p","m":2.107,"n":2,"lo":0.71,"hi":4.64},
{"g":5,"s":"t","k":"p","m":2.109,"n":4,"lo":2.09,"hi":7.16},
{"g":5,"s":"t","k":"p","m":2.111,"n":3,"lo":1.37,"hi":5.92},
{"g":5,"s":"t","k":"p","m":2.113,"n":5,"lo":2.84,"hi":8.38},
{"g":5,"s":"t","k":"p","m":2.115,"n":6,"lo":3.62,"hi":9.58},
{"g":5,"s":"t","k":"p","m":2.117,"n":5,"lo":2.84,"hi":8.38},
{"g":5,"s":"t","k":"p","m":2.119,"n":3,"lo":1.37,"hi":5.92},
{"g":5,"s":"t","k":"p","m":2.121,"n":5,"lo":2.84,"hi":8.38},
{"g":5,"s":"t","k":"p","m":2.123,"n":11,"lo":7.74,"hi":15.41},
{"g":5,"s":"t","k":"p","m":2.125,"n":4,"lo":2.09,"hi":7.16},
{"g":5,"s":"t","k":"p","m":2.127,"n":3,"lo":1.37,"hi":5.92},
{"g":5,"s":"t","k":"p","m":2.129,"n":8,"lo":5.23,"hi":11.95},
{"g":5,"s":"t","k":"p","m":2.131,"n":9,"lo":6.06,"hi":13.11},
{"g":5,"s":"t","k":"p","m":2.133,"n":6,"lo":3.62,"hi":9.58},
{"g":5,"s":"t","k":"p","m":2.135,"n":5,"lo":2.84,"hi":8.38},
{"g":5,"s":"t","k":"p","m":2.137,"n":2,"lo":0.71,"hi":4.64},
{"g":5,"s":"t","k":"p","m":2.139,"n":4,"lo":2.09,"hi":7.16},
{"g":5,"s":"t","k":"p","m":2.141,"n":5,"lo":2.84,"hi":8.38},
{"g":5,"s":"t","k":"p","m":2.143,"n":5,"lo":2.84,"hi":8.38},
{"g":5,"s":"t","k":"p","m":2.145,"n":4,"lo":2.09,"hi":7.16},
{"g":5,"s":"t","k":"p","m":2.147,"n":4,"lo":2.09,"hi":7.16},
{"g":5,"s":"t","k":"p","m":2.149,"n":6,"lo":3.62,"hi":9.58},
{"g":5,"s":"t","k":"c","c":"bkg","m":2.0815,"v":2.23},
{"g":5,"s":"t","k":"c","c":"bkg","m":2.09,"v":2.8},
{"g":5,"s":"t","k":"c","c":"bkg","m":2.1,"v":3.55},
{"g":5,"s":"t","k":"c","c":"bkg","m":2.11,"v":4.15},
{"g":5,"s":"t","k":"c","c":"bkg","m":2.115,"v":4.3},
{"g":5,"s":"t","k":"c","c":"bkg","m":2.12,"v":4.4},
{"g":5,"s":"t","k":"c","c":"bkg","m":2.13,"v":4.4},
{"g":5,"s":"t","k":"c","c":"bkg","m":2.14,"v":4.15},
{"g":5,"s":"t","k":"c","c":"bkg","m":2.15,"v":3.84},
{"g":5,"s":"t","k":"c","c":"signal","m":2.1005,"v":0.032},
{"g":5,"s":"t","k":"c","c":"signal","m":2.1035,"v":0.064},
{"g":5,"s":"t","k":"c","c":"signal","m":2.1055,"v":0.096},
{"g":5,"s":"t","k":"c","c":"signal","m":2.1075,"v":0.18},
{"g":5,"s":"t","k":"c","c":"signal","m":2.1085,"v":0.26},
{"g":5,"s":"t","k":"c","c":"signal","m":2.1095,"v":0.4},
{"g":5,"s":"t","k":"c","c":"signal","m":2.1105,"v":0.67},
{"g":5,"s":"t","k":"c","c":"signal","m":2.1115,"v":1.15},
{"g":5,"s":"t","k":"c","c":"signal","m":2.1125,"v":1.6},
{"g":5,"s":"t","k":"c","c":"signal","m":2.1135,"v":1.15},
{"g":5,"s":"t","k":"c","c":"signal","m":2.1145,"v":0.67},
{"g":5,"s":"t","k":"c","c":"signal","m":2.1155,"v":0.4},
{"g":5,"s":"t","k":"c","c":"signal","m":2.1165,"v":0.26},
{"g":5,"s":"t","k":"c","c":"signal","m":2.1175,"v":0.18},
{"g":5,"s":"t","k":"c","c":"signal","m":2.1195,"v":0.096},
{"g":5,"s":"t","k":"c","c":"signal","m":2.1215,"v":0.064},
{"g":5,"s":"t","k":"c","c":"signal","m":2.1245,"v":0.032},
{"g":5,"s":"t","k":"c","c":"fit result","m":2.0815,"v":2.23},
{"g":5,"s":"t","k":"c","c":"fit result","m":2.09,"v":2.8},
{"g":5,"s":"t","k":"c","c":"fit result","m":2.1,"v":3.55},
{"g":5,"s":"t","k":"c","c":"fit result","m":2.1035,"v":3.82},
{"g":5,"s":"t","k":"c","c":"fit result","m":2.1055,"v":3.98},
{"g":5,"s":"t","k":"c","c":"fit result","m":2.1075,"v":4.18},
{"g":5,"s":"t","k":"c","c":"fit result","m":2.1085,"v":4.32},
{"g":5,"s":"t","k":"c","c":"fit result","m":2.1095,"v":4.52},
{"g":5,"s":"t","k":"c","c":"fit result","m":2.1105,"v":4.85},
{"g":5,"s":"t","k":"c","c":"fit result","m":2.1115,"v":5.37},
{"g":5,"s":"t","k":"c","c":"fit result","m":2.1125,"v":5.85},
{"g":5,"s":"t","k":"c","c":"fit result","m":2.1135,"v":5.42},
{"g":5,"s":"t","k":"c","c":"fit result","m":2.1145,"v":4.96},
{"g":5,"s":"t","k":"c","c":"fit result","m":2.1155,"v":4.71},
{"g":5,"s":"t","k":"c","c":"fit result","m":2.1165,"v":4.59},
{"g":5,"s":"t","k":"c","c":"fit result","m":2.1175,"v":4.53},
{"g":5,"s":"t","k":"c","c":"fit result","m":2.1195,"v":4.49},
{"g":5,"s":"t","k":"c","c":"fit result","m":2.1215,"v":4.46},
{"g":5,"s":"t","k":"c","c":"fit result","m":2.1245,"v":4.43},
{"g":5,"s":"t","k":"c","c":"fit result","m":2.13,"v":4.4},
{"g":5,"s":"t","k":"c","c":"fit result","m":2.14,"v":4.15},
{"g":5,"s":"t","k":"c","c":"fit result","m":2.15,"v":3.84},
{"g":5,"s":"r","k":"p","m":2.083,"n":1,"lo":0.17,"hi":3.3},
{"g":5,"s":"r","k":"p","m":2.085,"n":2,"lo":0.71,"hi":4.64},
{"g":5,"s":"r","k":"p","m":2.087,"n":2,"lo":0.71,"hi":4.64},
{"g":5,"s":"r","k":"p","m":2.089,"n":3,"lo":1.37,"hi":5.92},
{"g":5,"s":"r","k":"p","m":2.091,"n":6,"lo":3.62,"hi":9.58},
{"g":5,"s":"r","k":"p","m":2.093,"n":5,"lo":2.84,"hi":8.38},
{"g":5,"s":"r","k":"p","m":2.095,"n":6,"lo":3.62,"hi":9.58},
{"g":5,"s":"r","k":"p","m":2.097,"n":2,"lo":0.71,"hi":4.64},
{"g":5,"s":"r","k":"p","m":2.099,"n":5,"lo":2.84,"hi":8.38},
{"g":5,"s":"r","k":"p","m":2.101,"n":5,"lo":2.84,"hi":8.38},
{"g":5,"s":"r","k":"p","m":2.103,"n":2,"lo":0.71,"hi":4.64},
{"g":5,"s":"r","k":"p","m":2.105,"n":9,"lo":6.06,"hi":13.11},
{"g":5,"s":"r","k":"p","m":2.107,"n":2,"lo":0.71,"hi":4.64},
{"g":5,"s":"r","k":"p","m":2.109,"n":4,"lo":2.09,"hi":7.16},
{"g":5,"s":"r","k":"p","m":2.111,"n":6,"lo":3.62,"hi":9.58},
{"g":5,"s":"r","k":"p","m":2.113,"n":8,"lo":5.23,"hi":11.95},
{"g":5,"s":"r","k":"p","m":2.115,"n":5,"lo":2.84,"hi":8.38},
{"g":5,"s":"r","k":"p","m":2.117,"n":1,"lo":0.17,"hi":3.3},
{"g":5,"s":"r","k":"p","m":2.119,"n":9,"lo":6.06,"hi":13.11},
{"g":5,"s":"r","k":"p","m":2.121,"n":3,"lo":1.37,"hi":5.92},
{"g":5,"s":"r","k":"p","m":2.123,"n":4,"lo":2.09,"hi":7.16},
{"g":5,"s":"r","k":"p","m":2.125,"n":3,"lo":1.37,"hi":5.92},
{"g":5,"s":"r","k":"p","m":2.127,"n":3,"lo":1.37,"hi":5.92},
{"g":5,"s":"r","k":"p","m":2.129,"n":4,"lo":2.09,"hi":7.16},
{"g":5,"s":"r","k":"p","m":2.131,"n":6,"lo":3.62,"hi":9.58},
{"g":5,"s":"r","k":"p","m":2.133,"n":5,"lo":2.84,"hi":8.38},
{"g":5,"s":"r","k":"p","m":2.135,"n":7,"lo":4.42,"hi":10.77},
{"g":5,"s":"r","k":"p","m":2.137,"n":3,"lo":1.37,"hi":5.92},
{"g":5,"s":"r","k":"p","m":2.139,"n":4,"lo":2.09,"hi":7.16},
{"g":5,"s":"r","k":"p","m":2.141,"n":6,"lo":3.62,"hi":9.58},
{"g":5,"s":"r","k":"p","m":2.143,"n":3,"lo":1.37,"hi":5.92},
{"g":5,"s":"r","k":"p","m":2.145,"n":3,"lo":1.37,"hi":5.92},
{"g":5,"s":"r","k":"p","m":2.147,"n":4,"lo":2.09,"hi":7.16},
{"g":5,"s":"r","k":"p","m":2.149,"n":7,"lo":4.42,"hi":10.77},
{"g":5,"s":"r","k":"c","c":"bkg","m":2.0815,"v":2.67},
{"g":5,"s":"r","k":"c","c":"bkg","m":2.09,"v":3.45},
{"g":5,"s":"r","k":"c","c":"bkg","m":2.1,"v":4.2},
{"g":5,"s":"r","k":"c","c":"bkg","m":2.11,"v":4.6},
{"g":5,"s":"r","k":"c","c":"bkg","m":2.12,"v":4.75},
{"g":5,"s":"r","k":"c","c":"bkg","m":2.13,"v":4.75},
{"g":5,"s":"r","k":"c","c":"bkg","m":2.14,"v":4.4},
{"g":5,"s":"r","k":"c","c":"bkg","m":2.15,"v":3.84},
{"g":5,"s":"r","k":"c","c":"signal","m":2.1005,"v":0.036},
{"g":5,"s":"r","k":"c","c":"signal","m":2.1035,"v":0.072},
{"g":5,"s":"r","k":"c","c":"signal","m":2.1055,"v":0.108},
{"g":5,"s":"r","k":"c","c":"signal","m":2.1075,"v":0.2},
{"g":5,"s":"r","k":"c","c":"signal","m":2.1085,"v":0.29},
{"g":5,"s":"r","k":"c","c":"signal","m":2.1095,"v":0.45},
{"g":5,"s":"r","k":"c","c":"signal","m":2.1105,"v":0.76},
{"g":5,"s":"r","k":"c","c":"signal","m":2.1115,"v":1.3},
{"g":5,"s":"r","k":"c","c":"signal","m":2.1125,"v":1.8},
{"g":5,"s":"r","k":"c","c":"signal","m":2.1135,"v":1.3},
{"g":5,"s":"r","k":"c","c":"signal","m":2.1145,"v":0.76},
{"g":5,"s":"r","k":"c","c":"signal","m":2.1155,"v":0.45},
{"g":5,"s":"r","k":"c","c":"signal","m":2.1165,"v":0.29},
{"g":5,"s":"r","k":"c","c":"signal","m":2.1175,"v":0.2},
{"g":5,"s":"r","k":"c","c":"signal","m":2.1195,"v":0.108},
{"g":5,"s":"r","k":"c","c":"signal","m":2.1215,"v":0.072},
{"g":5,"s":"r","k":"c","c":"signal","m":2.1245,"v":0.036},
{"g":5,"s":"r","k":"c","c":"fit result","m":2.0815,"v":2.67},
{"g":5,"s":"r","k":"c","c":"fit result","m":2.09,"v":3.45},
{"g":5,"s":"r","k":"c","c":"fit result","m":2.1,"v":4.2},
{"g":5,"s":"r","k":"c","c":"fit result","m":2.1035,"v":4.41},
{"g":5,"s":"r","k":"c","c":"fit result","m":2.1055,"v":4.53},
{"g":5,"s":"r","k":"c","c":"fit result","m":2.1075,"v":4.7},
{"g":5,"s":"r","k":"c","c":"fit result","m":2.1085,"v":4.83},
{"g":5,"s":"r","k":"c","c":"fit result","m":2.1095,"v":5.03},
{"g":5,"s":"r","k":"c","c":"fit result","m":2.1105,"v":5.37},
{"g":5,"s":"r","k":"c","c":"fit result","m":2.1115,"v":5.93},
{"g":5,"s":"r","k":"c","c":"fit result","m":2.1125,"v":6.45},
{"g":5,"s":"r","k":"c","c":"fit result","m":2.1135,"v":5.96},
{"g":5,"s":"r","k":"c","c":"fit result","m":2.1145,"v":5.44},
{"g":5,"s":"r","k":"c","c":"fit result","m":2.1155,"v":5.14},
{"g":5,"s":"r","k":"c","c":"fit result","m":2.1165,"v":4.99},
{"g":5,"s":"r","k":"c","c":"fit result","m":2.1175,"v":4.91},
{"g":5,"s":"r","k":"c","c":"fit result","m":2.1195,"v":4.85},
{"g":5,"s":"r","k":"c","c":"fit result","m":2.1215,"v":4.82},
{"g":5,"s":"r","k":"c","c":"fit result","m":2.1245,"v":4.79},
{"g":5,"s":"r","k":"c","c":"fit result","m":2.13,"v":4.75},
{"g":5,"s":"r","k":"c","c":"fit result","m":2.14,"v":4.4},
{"g":5,"s":"r","k":"c","c":"fit result","m":2.15,"v":3.84}
]},
"concat":[
{"width":344,"height":204.4,"data":{"name":"all"},"transform":[{"filter":"datum.g==1&&datum.s=='t'"}],"resolve":{"scale":{"y":"independent","strokeDash":"independent"}},"layer":[
{"layer":[
{"transform":[{"filter":"datum.k=='p'"}],"mark":{"type":"rule","clip":true},"encoding":{"x":{"field":"m","type":"quantitative","scale":{"domain":[2.0815,2.15],"nice":false,"zero":false},"axis":{"values":[2.085,2.09,2.095,2.1,2.105,2.11,2.115,2.12,2.125,2.13,2.135,2.14,2.145],"tickCount":100,"labels":false,"labelOverlap":false,"title":null,"tickSize":{"condition":{"test":"datum.value==2.1||datum.value==2.12||datum.value==2.14","value":-13},"value":-7}}},"y":{"field":"lo","type":"quantitative","scale":{"domain":[0,13],"nice":false,"zero":false},"axis":{"values":[1,2,3,4,5,6,7,8,9,10,11,12],"tickCount":100,"title":null,"format":"~g","labelOverlap":false,"labelExpr":"datum.value%5==0 ? datum.label : ''","labelPadding":27,"tickSize":{"condition":{"test":"datum.value%5==0","value":-13},"value":-7}}},"y2":{"field":"hi"}}},
{"transform":[{"filter":"datum.k=='p'"},{"fold":["lo","hi"],"as":["b","e"]}],"mark":{"type":"tick","orient":"horizontal","clip":true},"encoding":{"x":{"field":"m","type":"quantitative"},"y":{"field":"e","type":"quantitative"}}},
{"transform":[{"filter":"datum.k=='p'"}],"mark":{"type":"point","shape":"M-1,0H1M-1,-0.6V0.6M1,-0.6V0.6M-0.73,0A0.73 0.73 0 1 0 0.73,0A0.73 0.73 0 1 0 -0.73,0Z","size":81,"fill":"#000000","stroke":"#000000","strokeWidth":1.3,"opacity":1},"encoding":{"x":{"field":"m","type":"quantitative"},"y":{"field":"n","type":"quantitative"}}},
{"transform":[{"filter":"datum.k=='c'"}],"mark":{"type":"line","interpolate":"monotone","strokeWidth":2.5,"clip":true},"encoding":{"x":{"field":"m","type":"quantitative"},"y":{"field":"v","type":"quantitative"},"color":{"field":"c","type":"nominal","scale":{"domain":["data","fit result","signal","bkg"],"range":["#000000","#ff0000","#ff00ff","#0000ff"]},"legend":null},"strokeDash":{"field":"c","type":"nominal","scale":{"domain":["data","fit result","signal","bkg"],"range":[[1,0],[1,0],[9,5],[9,5]]},"legend":null}}},
{"data":{"values":[{"t":"Group 1"}]},"mark":{"type":"text","align":"left","baseline":"alphabetic","fontSize":29},"encoding":{"x":{"datum":2.0857,"type":"quantitative"},"y":{"datum":10.9,"type":"quantitative"},"text":{"field":"t"}}}
]},
{"data":{"name":"leg"},"layer":[
{"mark":{"type":"text","align":"left","baseline":"middle","fontSize":22},"encoding":{"x":{"datum":2.1321,"type":"quantitative"},"y":{"field":"c","type":"nominal","scale":{"type":"point","domain":["data","fit result","signal","bkg"],"range":[23,97],"padding":0},"axis":null},"text":{"field":"c"},"color":{"field":"c","type":"nominal","legend":null}}},
{"transform":[{"filter":"datum.c!='data'"}],"mark":{"type":"rule","strokeWidth":2.5},"encoding":{"x":{"datum":2.1284,"type":"quantitative"},"x2":{"datum":2.1309},"y":{"field":"c","type":"nominal","axis":null},"color":{"field":"c","type":"nominal","legend":null},"strokeDash":{"field":"c","type":"nominal","scale":{"domain":["data","fit result","signal","bkg"],"range":[[1,0],[1,0],[4,4],[4,4]]},"legend":null}}},
{"transform":[{"filter":"datum.c=='data'"}],"mark":{"type":"point","shape":"M0,-1V1M-0.26,0A0.26 0.26 0 1 0 0.26,0A0.26 0.26 0 1 0 -0.26,0Z","size":625,"fill":"#000000","stroke":"#000000","strokeWidth":1.5,"opacity":1},"encoding":{"x":{"datum":2.1299,"type":"quantitative"},"y":{"field":"c","type":"nominal","axis":null}}}
]}
]},
{"width":347,"height":204.4,"data":{"name":"all"},"transform":[{"filter":"datum.g==1&&datum.s=='r'"}],"resolve":{"scale":{"y":"independent","strokeDash":"independent"}},"layer":[
{"layer":[
{"transform":[{"filter":"datum.k=='p'"}],"mark":{"type":"rule","clip":true},"encoding":{"x":{"field":"m","type":"quantitative","scale":{"domain":[2.0815,2.15],"nice":false,"zero":false},"axis":{"values":[2.085,2.09,2.095,2.1,2.105,2.11,2.115,2.12,2.125,2.13,2.135,2.14,2.145],"tickCount":100,"labels":false,"labelOverlap":false,"title":null,"tickSize":{"condition":{"test":"datum.value==2.1||datum.value==2.12||datum.value==2.14","value":-13},"value":-7}}},"y":{"field":"lo","type":"quantitative","scale":{"domain":[0,13],"nice":false,"zero":false},"axis":{"values":[1,2,3,4,5,6,7,8,9,10,11,12],"tickCount":100,"title":null,"labels":false,"labelOverlap":false,"tickSize":{"condition":{"test":"datum.value%5==0","value":-13},"value":-7}}},"y2":{"field":"hi"}}},
{"transform":[{"filter":"datum.k=='p'"},{"fold":["lo","hi"],"as":["b","e"]}],"mark":{"type":"tick","orient":"horizontal","clip":true},"encoding":{"x":{"field":"m","type":"quantitative"},"y":{"field":"e","type":"quantitative"}}},
{"transform":[{"filter":"datum.k=='p'"}],"mark":{"type":"point","shape":"M-1,0H1M-1,-0.6V0.6M1,-0.6V0.6M-0.73,0A0.73 0.73 0 1 0 0.73,0A0.73 0.73 0 1 0 -0.73,0Z","size":81,"fill":"#000000","stroke":"#000000","strokeWidth":1.3,"opacity":1},"encoding":{"x":{"field":"m","type":"quantitative"},"y":{"field":"n","type":"quantitative"}}},
{"transform":[{"filter":"datum.k=='c'"}],"mark":{"type":"line","interpolate":"monotone","strokeWidth":2.5,"clip":true},"encoding":{"x":{"field":"m","type":"quantitative"},"y":{"field":"v","type":"quantitative"},"color":{"field":"c","type":"nominal","scale":{"domain":["data","fit result","signal","bkg"],"range":["#000000","#ff0000","#ff00ff","#0000ff"]},"legend":null},"strokeDash":{"field":"c","type":"nominal","scale":{"domain":["data","fit result","signal","bkg"],"range":[[1,0],[1,0],[9,5],[9,5]]},"legend":null}}},
{"data":{"values":[{"t":"Group 1"}]},"mark":{"type":"text","align":"left","baseline":"alphabetic","fontSize":29},"encoding":{"x":{"datum":2.0857,"type":"quantitative"},"y":{"datum":10.9,"type":"quantitative"},"text":{"field":"t"}}}
]},
{"data":{"name":"leg"},"layer":[
{"mark":{"type":"text","align":"left","baseline":"middle","fontSize":22},"encoding":{"x":{"datum":2.1321,"type":"quantitative"},"y":{"field":"c","type":"nominal","scale":{"type":"point","domain":["data","fit result","signal","bkg"],"range":[23,97],"padding":0},"axis":null},"text":{"field":"c"},"color":{"field":"c","type":"nominal","legend":null}}},
{"transform":[{"filter":"datum.c!='data'"}],"mark":{"type":"rule","strokeWidth":2.5},"encoding":{"x":{"datum":2.1284,"type":"quantitative"},"x2":{"datum":2.1309},"y":{"field":"c","type":"nominal","axis":null},"color":{"field":"c","type":"nominal","legend":null},"strokeDash":{"field":"c","type":"nominal","scale":{"domain":["data","fit result","signal","bkg"],"range":[[1,0],[1,0],[4,4],[4,4]]},"legend":null}}},
{"transform":[{"filter":"datum.c=='data'"}],"mark":{"type":"point","shape":"M0,-1V1M-0.26,0A0.26 0.26 0 1 0 0.26,0A0.26 0.26 0 1 0 -0.26,0Z","size":625,"fill":"#000000","stroke":"#000000","strokeWidth":1.5,"opacity":1},"encoding":{"x":{"datum":2.1299,"type":"quantitative"},"y":{"field":"c","type":"nominal","axis":null}}}
]}
]},
{"width":344,"height":204.4,"data":{"name":"all"},"transform":[{"filter":"datum.g==2&&datum.s=='t'"}],"resolve":{"scale":{"y":"independent","strokeDash":"independent"}},"layer":[
{"layer":[
{"transform":[{"filter":"datum.k=='p'"}],"mark":{"type":"rule","clip":true},"encoding":{"x":{"field":"m","type":"quantitative","scale":{"domain":[2.0815,2.15],"nice":false,"zero":false},"axis":{"values":[2.085,2.09,2.095,2.1,2.105,2.11,2.115,2.12,2.125,2.13,2.135,2.14,2.145],"tickCount":100,"labels":false,"labelOverlap":false,"title":null,"tickSize":{"condition":{"test":"datum.value==2.1||datum.value==2.12||datum.value==2.14","value":-13},"value":-7}}},"y":{"field":"lo","type":"quantitative","scale":{"domain":[0.13,8.5],"nice":false,"zero":false},"axis":{"values":[0.5,1,1.5,2,2.5,3,3.5,4,4.5,5,5.5,6,6.5,7,7.5,8],"tickCount":100,"title":null,"format":"~g","labelOverlap":false,"labelExpr":"datum.value%2==0 ? datum.label : ''","labelPadding":27,"tickSize":{"condition":{"test":"datum.value%2==0","value":-13},"value":-7}}},"y2":{"field":"hi"}}},
{"transform":[{"filter":"datum.k=='p'"},{"fold":["lo","hi"],"as":["b","e"]}],"mark":{"type":"tick","orient":"horizontal","clip":true},"encoding":{"x":{"field":"m","type":"quantitative"},"y":{"field":"e","type":"quantitative"}}},
{"transform":[{"filter":"datum.k=='p'"}],"mark":{"type":"point","shape":"M-1,0H1M-1,-0.6V0.6M1,-0.6V0.6M-0.73,0A0.73 0.73 0 1 0 0.73,0A0.73 0.73 0 1 0 -0.73,0Z","size":81,"fill":"#000000","stroke":"#000000","strokeWidth":1.3,"opacity":1},"encoding":{"x":{"field":"m","type":"quantitative"},"y":{"field":"n","type":"quantitative"}}},
{"transform":[{"filter":"datum.k=='c'"}],"mark":{"type":"line","interpolate":"monotone","strokeWidth":2.5,"clip":true},"encoding":{"x":{"field":"m","type":"quantitative"},"y":{"field":"v","type":"quantitative"},"color":{"field":"c","type":"nominal","scale":{"domain":["data","fit result","signal","bkg"],"range":["#000000","#ff0000","#ff00ff","#0000ff"]},"legend":null},"strokeDash":{"field":"c","type":"nominal","scale":{"domain":["data","fit result","signal","bkg"],"range":[[1,0],[1,0],[9,5],[9,5]]},"legend":null}}},
{"data":{"values":[{"t":"Group 2"}]},"mark":{"type":"text","align":"left","baseline":"alphabetic","fontSize":29},"encoding":{"x":{"datum":2.0857,"type":"quantitative"},"y":{"datum":7.15,"type":"quantitative"},"text":{"field":"t"}}}
]},
{"data":{"name":"leg"},"layer":[
{"mark":{"type":"text","align":"left","baseline":"middle","fontSize":22},"encoding":{"x":{"datum":2.1321,"type":"quantitative"},"y":{"field":"c","type":"nominal","scale":{"type":"point","domain":["data","fit result","signal","bkg"],"range":[23,97],"padding":0},"axis":null},"text":{"field":"c"},"color":{"field":"c","type":"nominal","legend":null}}},
{"transform":[{"filter":"datum.c!='data'"}],"mark":{"type":"rule","strokeWidth":2.5},"encoding":{"x":{"datum":2.1284,"type":"quantitative"},"x2":{"datum":2.1309},"y":{"field":"c","type":"nominal","axis":null},"color":{"field":"c","type":"nominal","legend":null},"strokeDash":{"field":"c","type":"nominal","scale":{"domain":["data","fit result","signal","bkg"],"range":[[1,0],[1,0],[4,4],[4,4]]},"legend":null}}},
{"transform":[{"filter":"datum.c=='data'"}],"mark":{"type":"point","shape":"M0,-1V1M-0.26,0A0.26 0.26 0 1 0 0.26,0A0.26 0.26 0 1 0 -0.26,0Z","size":625,"fill":"#000000","stroke":"#000000","strokeWidth":1.5,"opacity":1},"encoding":{"x":{"datum":2.1299,"type":"quantitative"},"y":{"field":"c","type":"nominal","axis":null}}}
]}
]},
{"width":347,"height":204.4,"data":{"name":"all"},"transform":[{"filter":"datum.g==2&&datum.s=='r'"}],"resolve":{"scale":{"y":"independent","strokeDash":"independent"}},"layer":[
{"layer":[
{"transform":[{"filter":"datum.k=='p'"}],"mark":{"type":"rule","clip":true},"encoding":{"x":{"field":"m","type":"quantitative","scale":{"domain":[2.0815,2.15],"nice":false,"zero":false},"axis":{"values":[2.085,2.09,2.095,2.1,2.105,2.11,2.115,2.12,2.125,2.13,2.135,2.14,2.145],"tickCount":100,"labels":false,"labelOverlap":false,"title":null,"tickSize":{"condition":{"test":"datum.value==2.1||datum.value==2.12||datum.value==2.14","value":-13},"value":-7}}},"y":{"field":"lo","type":"quantitative","scale":{"domain":[0.13,8.5],"nice":false,"zero":false},"axis":{"values":[0.5,1,1.5,2,2.5,3,3.5,4,4.5,5,5.5,6,6.5,7,7.5,8],"tickCount":100,"title":null,"labels":false,"labelOverlap":false,"tickSize":{"condition":{"test":"datum.value%2==0","value":-13},"value":-7}}},"y2":{"field":"hi"}}},
{"transform":[{"filter":"datum.k=='p'"},{"fold":["lo","hi"],"as":["b","e"]}],"mark":{"type":"tick","orient":"horizontal","clip":true},"encoding":{"x":{"field":"m","type":"quantitative"},"y":{"field":"e","type":"quantitative"}}},
{"transform":[{"filter":"datum.k=='p'"}],"mark":{"type":"point","shape":"M-1,0H1M-1,-0.6V0.6M1,-0.6V0.6M-0.73,0A0.73 0.73 0 1 0 0.73,0A0.73 0.73 0 1 0 -0.73,0Z","size":81,"fill":"#000000","stroke":"#000000","strokeWidth":1.3,"opacity":1},"encoding":{"x":{"field":"m","type":"quantitative"},"y":{"field":"n","type":"quantitative"}}},
{"transform":[{"filter":"datum.k=='c'"}],"mark":{"type":"line","interpolate":"monotone","strokeWidth":2.5,"clip":true},"encoding":{"x":{"field":"m","type":"quantitative"},"y":{"field":"v","type":"quantitative"},"color":{"field":"c","type":"nominal","scale":{"domain":["data","fit result","signal","bkg"],"range":["#000000","#ff0000","#ff00ff","#0000ff"]},"legend":null},"strokeDash":{"field":"c","type":"nominal","scale":{"domain":["data","fit result","signal","bkg"],"range":[[1,0],[1,0],[9,5],[9,5]]},"legend":null}}},
{"data":{"values":[{"t":"Group 2"}]},"mark":{"type":"text","align":"left","baseline":"alphabetic","fontSize":29},"encoding":{"x":{"datum":2.0857,"type":"quantitative"},"y":{"datum":7.15,"type":"quantitative"},"text":{"field":"t"}}}
]},
{"data":{"name":"leg"},"layer":[
{"mark":{"type":"text","align":"left","baseline":"middle","fontSize":22},"encoding":{"x":{"datum":2.1321,"type":"quantitative"},"y":{"field":"c","type":"nominal","scale":{"type":"point","domain":["data","fit result","signal","bkg"],"range":[23,97],"padding":0},"axis":null},"text":{"field":"c"},"color":{"field":"c","type":"nominal","legend":null}}},
{"transform":[{"filter":"datum.c!='data'"}],"mark":{"type":"rule","strokeWidth":2.5},"encoding":{"x":{"datum":2.1284,"type":"quantitative"},"x2":{"datum":2.1309},"y":{"field":"c","type":"nominal","axis":null},"color":{"field":"c","type":"nominal","legend":null},"strokeDash":{"field":"c","type":"nominal","scale":{"domain":["data","fit result","signal","bkg"],"range":[[1,0],[1,0],[4,4],[4,4]]},"legend":null}}},
{"transform":[{"filter":"datum.c=='data'"}],"mark":{"type":"point","shape":"M0,-1V1M-0.26,0A0.26 0.26 0 1 0 0.26,0A0.26 0.26 0 1 0 -0.26,0Z","size":625,"fill":"#000000","stroke":"#000000","strokeWidth":1.5,"opacity":1},"encoding":{"x":{"datum":2.1299,"type":"quantitative"},"y":{"field":"c","type":"nominal","axis":null}}}
]}
]},
{"width":344,"height":204.4,"data":{"name":"all"},"transform":[{"filter":"datum.g==3&&datum.s=='t'"}],"resolve":{"scale":{"y":"independent","strokeDash":"independent"}},"layer":[
{"layer":[
{"transform":[{"filter":"datum.k=='p'"}],"mark":{"type":"rule","clip":true},"encoding":{"x":{"field":"m","type":"quantitative","scale":{"domain":[2.0815,2.15],"nice":false,"zero":false},"axis":{"values":[2.085,2.09,2.095,2.1,2.105,2.11,2.115,2.12,2.125,2.13,2.135,2.14,2.145],"tickCount":100,"labels":false,"labelOverlap":false,"title":null,"tickSize":{"condition":{"test":"datum.value==2.1||datum.value==2.12||datum.value==2.14","value":-13},"value":-7}}},"y":{"field":"lo","type":"quantitative","scale":{"domain":[0.15,11.5],"nice":false,"zero":false},"axis":{"values":[1,2,3,4,5,6,7,8,9,10,11],"tickCount":100,"title":"Events / (2 MeV/c²)","titlePadding":38,"format":"~g","labelOverlap":false,"labelExpr":"datum.value%5==0 ? datum.label : ''","labelPadding":27,"tickSize":{"condition":{"test":"datum.value%5==0","value":-13},"value":-7}}},"y2":{"field":"hi"}}},
{"transform":[{"filter":"datum.k=='p'"},{"fold":["lo","hi"],"as":["b","e"]}],"mark":{"type":"tick","orient":"horizontal","clip":true},"encoding":{"x":{"field":"m","type":"quantitative"},"y":{"field":"e","type":"quantitative"}}},
{"transform":[{"filter":"datum.k=='p'"}],"mark":{"type":"point","shape":"M-1,0H1M-1,-0.6V0.6M1,-0.6V0.6M-0.73,0A0.73 0.73 0 1 0 0.73,0A0.73 0.73 0 1 0 -0.73,0Z","size":81,"fill":"#000000","stroke":"#000000","strokeWidth":1.3,"opacity":1},"encoding":{"x":{"field":"m","type":"quantitative"},"y":{"field":"n","type":"quantitative"}}},
{"transform":[{"filter":"datum.k=='c'"}],"mark":{"type":"line","interpolate":"monotone","strokeWidth":2.5,"clip":true},"encoding":{"x":{"field":"m","type":"quantitative"},"y":{"field":"v","type":"quantitative"},"color":{"field":"c","type":"nominal","scale":{"domain":["data","fit result","signal","bkg"],"range":["#000000","#ff0000","#ff00ff","#0000ff"]},"legend":null},"strokeDash":{"field":"c","type":"nominal","scale":{"domain":["data","fit result","signal","bkg"],"range":[[1,0],[1,0],[9,5],[9,5]]},"legend":null}}},
{"data":{"values":[{"t":"Group 3"}]},"mark":{"type":"text","align":"left","baseline":"alphabetic","fontSize":29},"encoding":{"x":{"datum":2.0857,"type":"quantitative"},"y":{"datum":9.67,"type":"quantitative"},"text":{"field":"t"}}}
]},
{"data":{"name":"leg"},"layer":[
{"mark":{"type":"text","align":"left","baseline":"middle","fontSize":22},"encoding":{"x":{"datum":2.1321,"type":"quantitative"},"y":{"field":"c","type":"nominal","scale":{"type":"point","domain":["data","fit result","signal","bkg"],"range":[23,97],"padding":0},"axis":null},"text":{"field":"c"},"color":{"field":"c","type":"nominal","legend":null}}},
{"transform":[{"filter":"datum.c!='data'"}],"mark":{"type":"rule","strokeWidth":2.5},"encoding":{"x":{"datum":2.1284,"type":"quantitative"},"x2":{"datum":2.1309},"y":{"field":"c","type":"nominal","axis":null},"color":{"field":"c","type":"nominal","legend":null},"strokeDash":{"field":"c","type":"nominal","scale":{"domain":["data","fit result","signal","bkg"],"range":[[1,0],[1,0],[4,4],[4,4]]},"legend":null}}},
{"transform":[{"filter":"datum.c=='data'"}],"mark":{"type":"point","shape":"M0,-1V1M-0.26,0A0.26 0.26 0 1 0 0.26,0A0.26 0.26 0 1 0 -0.26,0Z","size":625,"fill":"#000000","stroke":"#000000","strokeWidth":1.5,"opacity":1},"encoding":{"x":{"datum":2.1299,"type":"quantitative"},"y":{"field":"c","type":"nominal","axis":null}}}
]}
]},
{"width":347,"height":204.4,"data":{"name":"all"},"transform":[{"filter":"datum.g==3&&datum.s=='r'"}],"resolve":{"scale":{"y":"independent","strokeDash":"independent"}},"layer":[
{"layer":[
{"transform":[{"filter":"datum.k=='p'"}],"mark":{"type":"rule","clip":true},"encoding":{"x":{"field":"m","type":"quantitative","scale":{"domain":[2.0815,2.15],"nice":false,"zero":false},"axis":{"values":[2.085,2.09,2.095,2.1,2.105,2.11,2.115,2.12,2.125,2.13,2.135,2.14,2.145],"tickCount":100,"labels":false,"labelOverlap":false,"title":null,"tickSize":{"condition":{"test":"datum.value==2.1||datum.value==2.12||datum.value==2.14","value":-13},"value":-7}}},"y":{"field":"lo","type":"quantitative","scale":{"domain":[0.15,11.5],"nice":false,"zero":false},"axis":{"values":[1,2,3,4,5,6,7,8,9,10,11],"tickCount":100,"title":null,"labels":false,"labelOverlap":false,"tickSize":{"condition":{"test":"datum.value%5==0","value":-13},"value":-7}}},"y2":{"field":"hi"}}},
{"transform":[{"filter":"datum.k=='p'"},{"fold":["lo","hi"],"as":["b","e"]}],"mark":{"type":"tick","orient":"horizontal","clip":true},"encoding":{"x":{"field":"m","type":"quantitative"},"y":{"field":"e","type":"quantitative"}}},
{"transform":[{"filter":"datum.k=='p'"}],"mark":{"type":"point","shape":"M-1,0H1M-1,-0.6V0.6M1,-0.6V0.6M-0.73,0A0.73 0.73 0 1 0 0.73,0A0.73 0.73 0 1 0 -0.73,0Z","size":81,"fill":"#000000","stroke":"#000000","strokeWidth":1.3,"opacity":1},"encoding":{"x":{"field":"m","type":"quantitative"},"y":{"field":"n","type":"quantitative"}}},
{"transform":[{"filter":"datum.k=='c'"}],"mark":{"type":"line","interpolate":"monotone","strokeWidth":2.5,"clip":true},"encoding":{"x":{"field":"m","type":"quantitative"},"y":{"field":"v","type":"quantitative"},"color":{"field":"c","type":"nominal","scale":{"domain":["data","fit result","signal","bkg"],"range":["#000000","#ff0000","#ff00ff","#0000ff"]},"legend":null},"strokeDash":{"field":"c","type":"nominal","scale":{"domain":["data","fit result","signal","bkg"],"range":[[1,0],[1,0],[9,5],[9,5]]},"legend":null}}},
{"data":{"values":[{"t":"Group 3"}]},"mark":{"type":"text","align":"left","baseline":"alphabetic","fontSize":29},"encoding":{"x":{"datum":2.0857,"type":"quantitative"},"y":{"datum":9.67,"type":"quantitative"},"text":{"field":"t"}}}
]},
{"data":{"name":"leg"},"layer":[
{"mark":{"type":"text","align":"left","baseline":"middle","fontSize":22},"encoding":{"x":{"datum":2.1321,"type":"quantitative"},"y":{"field":"c","type":"nominal","scale":{"type":"point","domain":["data","fit result","signal","bkg"],"range":[23,97],"padding":0},"axis":null},"text":{"field":"c"},"color":{"field":"c","type":"nominal","legend":null}}},
{"transform":[{"filter":"datum.c!='data'"}],"mark":{"type":"rule","strokeWidth":2.5},"encoding":{"x":{"datum":2.1284,"type":"quantitative"},"x2":{"datum":2.1309},"y":{"field":"c","type":"nominal","axis":null},"color":{"field":"c","type":"nominal","legend":null},"strokeDash":{"field":"c","type":"nominal","scale":{"domain":["data","fit result","signal","bkg"],"range":[[1,0],[1,0],[4,4],[4,4]]},"legend":null}}},
{"transform":[{"filter":"datum.c=='data'"}],"mark":{"type":"point","shape":"M0,-1V1M-0.26,0A0.26 0.26 0 1 0 0.26,0A0.26 0.26 0 1 0 -0.26,0Z","size":625,"fill":"#000000","stroke":"#000000","strokeWidth":1.5,"opacity":1},"encoding":{"x":{"datum":2.1299,"type":"quantitative"},"y":{"field":"c","type":"nominal","axis":null}}}
]}
]},
{"width":344,"height":204.4,"data":{"name":"all"},"transform":[{"filter":"datum.g==4&&datum.s=='t'"}],"resolve":{"scale":{"y":"independent","strokeDash":"independent"}},"layer":[
{"layer":[
{"transform":[{"filter":"datum.k=='p'"}],"mark":{"type":"rule","clip":true},"encoding":{"x":{"field":"m","type":"quantitative","scale":{"domain":[2.0815,2.15],"nice":false,"zero":false},"axis":{"values":[2.085,2.09,2.095,2.1,2.105,2.11,2.115,2.12,2.125,2.13,2.135,2.14,2.145],"tickCount":100,"labels":false,"labelOverlap":false,"title":null,"tickSize":{"condition":{"test":"datum.value==2.1||datum.value==2.12||datum.value==2.14","value":-13},"value":-7}}},"y":{"field":"lo","type":"quantitative","scale":{"domain":[0.12,17.5],"nice":false,"zero":false},"axis":{"values":[1,2,3,4,5,6,7,8,9,10,11,12,13,14,15,16,17],"tickCount":100,"title":null,"format":"~g","labelOverlap":false,"labelExpr":"datum.value%5==0 ? datum.label : ''","labelPadding":27,"tickSize":{"condition":{"test":"datum.value%5==0","value":-13},"value":-7}}},"y2":{"field":"hi"}}},
{"transform":[{"filter":"datum.k=='p'"},{"fold":["lo","hi"],"as":["b","e"]}],"mark":{"type":"tick","orient":"horizontal","clip":true},"encoding":{"x":{"field":"m","type":"quantitative"},"y":{"field":"e","type":"quantitative"}}},
{"transform":[{"filter":"datum.k=='p'"}],"mark":{"type":"point","shape":"M-1,0H1M-1,-0.6V0.6M1,-0.6V0.6M-0.73,0A0.73 0.73 0 1 0 0.73,0A0.73 0.73 0 1 0 -0.73,0Z","size":81,"fill":"#000000","stroke":"#000000","strokeWidth":1.3,"opacity":1},"encoding":{"x":{"field":"m","type":"quantitative"},"y":{"field":"n","type":"quantitative"}}},
{"transform":[{"filter":"datum.k=='c'"}],"mark":{"type":"line","interpolate":"monotone","strokeWidth":2.5,"clip":true},"encoding":{"x":{"field":"m","type":"quantitative"},"y":{"field":"v","type":"quantitative"},"color":{"field":"c","type":"nominal","scale":{"domain":["data","fit result","signal","bkg"],"range":["#000000","#ff0000","#ff00ff","#0000ff"]},"legend":null},"strokeDash":{"field":"c","type":"nominal","scale":{"domain":["data","fit result","signal","bkg"],"range":[[1,0],[1,0],[9,5],[9,5]]},"legend":null}}},
{"data":{"values":[{"t":"Group 4"}]},"mark":{"type":"text","align":"left","baseline":"alphabetic","fontSize":29},"encoding":{"x":{"datum":2.0857,"type":"quantitative"},"y":{"datum":14.69,"type":"quantitative"},"text":{"field":"t"}}}
]},
{"data":{"name":"leg"},"layer":[
{"mark":{"type":"text","align":"left","baseline":"middle","fontSize":22},"encoding":{"x":{"datum":2.1321,"type":"quantitative"},"y":{"field":"c","type":"nominal","scale":{"type":"point","domain":["data","fit result","signal","bkg"],"range":[23,97],"padding":0},"axis":null},"text":{"field":"c"},"color":{"field":"c","type":"nominal","legend":null}}},
{"transform":[{"filter":"datum.c!='data'"}],"mark":{"type":"rule","strokeWidth":2.5},"encoding":{"x":{"datum":2.1284,"type":"quantitative"},"x2":{"datum":2.1309},"y":{"field":"c","type":"nominal","axis":null},"color":{"field":"c","type":"nominal","legend":null},"strokeDash":{"field":"c","type":"nominal","scale":{"domain":["data","fit result","signal","bkg"],"range":[[1,0],[1,0],[4,4],[4,4]]},"legend":null}}},
{"transform":[{"filter":"datum.c=='data'"}],"mark":{"type":"point","shape":"M0,-1V1M-0.26,0A0.26 0.26 0 1 0 0.26,0A0.26 0.26 0 1 0 -0.26,0Z","size":625,"fill":"#000000","stroke":"#000000","strokeWidth":1.5,"opacity":1},"encoding":{"x":{"datum":2.1299,"type":"quantitative"},"y":{"field":"c","type":"nominal","axis":null}}}
]}
]},
{"width":347,"height":204.4,"data":{"name":"all"},"transform":[{"filter":"datum.g==4&&datum.s=='r'"}],"resolve":{"scale":{"y":"independent","strokeDash":"independent"}},"layer":[
{"layer":[
{"transform":[{"filter":"datum.k=='p'"}],"mark":{"type":"rule","clip":true},"encoding":{"x":{"field":"m","type":"quantitative","scale":{"domain":[2.0815,2.15],"nice":false,"zero":false},"axis":{"values":[2.085,2.09,2.095,2.1,2.105,2.11,2.115,2.12,2.125,2.13,2.135,2.14,2.145],"tickCount":100,"labels":false,"labelOverlap":false,"title":null,"tickSize":{"condition":{"test":"datum.value==2.1||datum.value==2.12||datum.value==2.14","value":-13},"value":-7}}},"y":{"field":"lo","type":"quantitative","scale":{"domain":[0.12,17.5],"nice":false,"zero":false},"axis":{"values":[1,2,3,4,5,6,7,8,9,10,11,12,13,14,15,16,17],"tickCount":100,"title":null,"labels":false,"labelOverlap":false,"tickSize":{"condition":{"test":"datum.value%5==0","value":-13},"value":-7}}},"y2":{"field":"hi"}}},
{"transform":[{"filter":"datum.k=='p'"},{"fold":["lo","hi"],"as":["b","e"]}],"mark":{"type":"tick","orient":"horizontal","clip":true},"encoding":{"x":{"field":"m","type":"quantitative"},"y":{"field":"e","type":"quantitative"}}},
{"transform":[{"filter":"datum.k=='p'"}],"mark":{"type":"point","shape":"M-1,0H1M-1,-0.6V0.6M1,-0.6V0.6M-0.73,0A0.73 0.73 0 1 0 0.73,0A0.73 0.73 0 1 0 -0.73,0Z","size":81,"fill":"#000000","stroke":"#000000","strokeWidth":1.3,"opacity":1},"encoding":{"x":{"field":"m","type":"quantitative"},"y":{"field":"n","type":"quantitative"}}},
{"transform":[{"filter":"datum.k=='c'"}],"mark":{"type":"line","interpolate":"monotone","strokeWidth":2.5,"clip":true},"encoding":{"x":{"field":"m","type":"quantitative"},"y":{"field":"v","type":"quantitative"},"color":{"field":"c","type":"nominal","scale":{"domain":["data","fit result","signal","bkg"],"range":["#000000","#ff0000","#ff00ff","#0000ff"]},"legend":null},"strokeDash":{"field":"c","type":"nominal","scale":{"domain":["data","fit result","signal","bkg"],"range":[[1,0],[1,0],[9,5],[9,5]]},"legend":null}}},
{"data":{"values":[{"t":"Group 4"}]},"mark":{"type":"text","align":"left","baseline":"alphabetic","fontSize":29},"encoding":{"x":{"datum":2.0857,"type":"quantitative"},"y":{"datum":14.69,"type":"quantitative"},"text":{"field":"t"}}}
]},
{"data":{"name":"leg"},"layer":[
{"mark":{"type":"text","align":"left","baseline":"middle","fontSize":22},"encoding":{"x":{"datum":2.1321,"type":"quantitative"},"y":{"field":"c","type":"nominal","scale":{"type":"point","domain":["data","fit result","signal","bkg"],"range":[23,97],"padding":0},"axis":null},"text":{"field":"c"},"color":{"field":"c","type":"nominal","legend":null}}},
{"transform":[{"filter":"datum.c!='data'"}],"mark":{"type":"rule","strokeWidth":2.5},"encoding":{"x":{"datum":2.1284,"type":"quantitative"},"x2":{"datum":2.1309},"y":{"field":"c","type":"nominal","axis":null},"color":{"field":"c","type":"nominal","legend":null},"strokeDash":{"field":"c","type":"nominal","scale":{"domain":["data","fit result","signal","bkg"],"range":[[1,0],[1,0],[4,4],[4,4]]},"legend":null}}},
{"transform":[{"filter":"datum.c=='data'"}],"mark":{"type":"point","shape":"M0,-1V1M-0.26,0A0.26 0.26 0 1 0 0.26,0A0.26 0.26 0 1 0 -0.26,0Z","size":625,"fill":"#000000","stroke":"#000000","strokeWidth":1.5,"opacity":1},"encoding":{"x":{"datum":2.1299,"type":"quantitative"},"y":{"field":"c","type":"nominal","axis":null}}}
]}
]},
{"width":344,"height":204.4,"data":{"name":"all"},"transform":[{"filter":"datum.g==5&&datum.s=='t'"}],"resolve":{"scale":{"y":"independent","strokeDash":"independent"}},"layer":[
{"layer":[
{"transform":[{"filter":"datum.k=='p'"}],"mark":{"type":"rule","clip":true},"encoding":{"x":{"field":"m","type":"quantitative","scale":{"domain":[2.0815,2.15],"nice":false,"zero":false},"axis":{"values":[2.085,2.09,2.095,2.1,2.105,2.11,2.115,2.12,2.125,2.13,2.135,2.14,2.145],"tickCount":100,"title":null,"format":".2~f","labelOverlap":false,"labelExpr":"datum.value==2.1||datum.value==2.12||datum.value==2.14 ? datum.label : ''","labelPadding":17,"tickSize":{"condition":{"test":"datum.value==2.1||datum.value==2.12||datum.value==2.14","value":-13},"value":-7}}},"y":{"field":"lo","type":"quantitative","scale":{"domain":[0.15,33],"nice":false,"zero":false},"axis":{"values":[2,4,6,8,10,12,14,16,18,20,22,24,26,28,30,32],"tickCount":100,"title":null,"format":"~g","labelOverlap":false,"labelExpr":"datum.value%10==0 ? datum.label : ''","labelPadding":27,"tickSize":{"condition":{"test":"datum.value%10==0","value":-13},"value":-7}}},"y2":{"field":"hi"}}},
{"transform":[{"filter":"datum.k=='p'"},{"fold":["lo","hi"],"as":["b","e"]}],"mark":{"type":"tick","orient":"horizontal","clip":true},"encoding":{"x":{"field":"m","type":"quantitative"},"y":{"field":"e","type":"quantitative"}}},
{"transform":[{"filter":"datum.k=='p'"}],"mark":{"type":"point","shape":"M-1,0H1M-1,-0.6V0.6M1,-0.6V0.6M-0.73,0A0.73 0.73 0 1 0 0.73,0A0.73 0.73 0 1 0 -0.73,0Z","size":81,"fill":"#000000","stroke":"#000000","strokeWidth":1.3,"opacity":1},"encoding":{"x":{"field":"m","type":"quantitative"},"y":{"field":"n","type":"quantitative"}}},
{"transform":[{"filter":"datum.k=='c'"}],"mark":{"type":"line","interpolate":"monotone","strokeWidth":2.5,"clip":true},"encoding":{"x":{"field":"m","type":"quantitative"},"y":{"field":"v","type":"quantitative"},"color":{"field":"c","type":"nominal","scale":{"domain":["data","fit result","signal","bkg"],"range":["#000000","#ff0000","#ff00ff","#0000ff"]},"legend":null},"strokeDash":{"field":"c","type":"nominal","scale":{"domain":["data","fit result","signal","bkg"],"range":[[1,0],[1,0],[9,5],[9,5]]},"legend":null}}},
{"data":{"values":[{"t":"Group 5"}]},"mark":{"type":"text","align":"left","baseline":"alphabetic","fontSize":29},"encoding":{"x":{"datum":2.0857,"type":"quantitative"},"y":{"datum":27.7,"type":"quantitative"},"text":{"field":"t"}}},
{"data":{"values":[{"t":"M"}]},"mark":{"type":"text","align":"left","baseline":"alphabetic","fontSize":34,"fontStyle":"italic"},"encoding":{"x":{"datum":2.09013,"type":"quantitative"},"y":{"datum":-10.78,"type":"quantitative"},"text":{"field":"t"}}},
{"data":{"values":[{"t":"e⁺e⁻D"}]},"mark":{"type":"text","align":"left","baseline":"alphabetic","fontSize":22,"fontStyle":"italic"},"encoding":{"x":{"datum":2.09592,"type":"quantitative"},"y":{"datum":-12.39,"type":"quantitative"},"text":{"field":"t"}}},
{"data":{"values":[{"t":"s"}]},"mark":{"type":"text","align":"left","baseline":"alphabetic","fontSize":15,"fontStyle":"italic"},"encoding":{"x":{"datum":2.10649,"type":"quantitative"},"y":{"datum":-13.35,"type":"quantitative"},"text":{"field":"t"}}},
{"data":{"values":[{"t":"± tag"}]},"mark":{"type":"text","align":"left","baseline":"alphabetic","fontSize":15},"encoding":{"x":{"datum":2.10689,"type":"quantitative"},"y":{"datum":-10.46,"type":"quantitative"},"text":{"field":"t"}}},
{"data":{"values":[{"t":"(GeV/c²)"}]},"mark":{"type":"text","align":"left","baseline":"alphabetic","fontSize":34},"encoding":{"x":{"datum":2.11446,"type":"quantitative"},"y":{"datum":-10.78,"type":"quantitative"},"text":{"field":"t"}}}
]},
{"data":{"name":"leg"},"layer":[
{"mark":{"type":"text","align":"left","baseline":"middle","fontSize":22},"encoding":{"x":{"datum":2.1321,"type":"quantitative"},"y":{"field":"c","type":"nominal","scale":{"type":"point","domain":["data","fit result","signal","bkg"],"range":[23,97],"padding":0},"axis":null},"text":{"field":"c"},"color":{"field":"c","type":"nominal","legend":null}}},
{"transform":[{"filter":"datum.c!='data'"}],"mark":{"type":"rule","strokeWidth":2.5},"encoding":{"x":{"datum":2.1284,"type":"quantitative"},"x2":{"datum":2.1309},"y":{"field":"c","type":"nominal","axis":null},"color":{"field":"c","type":"nominal","legend":null},"strokeDash":{"field":"c","type":"nominal","scale":{"domain":["data","fit result","signal","bkg"],"range":[[1,0],[1,0],[4,4],[4,4]]},"legend":null}}},
{"transform":[{"filter":"datum.c=='data'"}],"mark":{"type":"point","shape":"M0,-1V1M-0.26,0A0.26 0.26 0 1 0 0.26,0A0.26 0.26 0 1 0 -0.26,0Z","size":625,"fill":"#000000","stroke":"#000000","strokeWidth":1.5,"opacity":1},"encoding":{"x":{"datum":2.1299,"type":"quantitative"},"y":{"field":"c","type":"nominal","axis":null}}}
]}
]},
{"width":347,"height":204.4,"data":{"name":"all"},"transform":[{"filter":"datum.g==5&&datum.s=='r'"}],"resolve":{"scale":{"y":"independent","strokeDash":"independent"}},"layer":[
{"layer":[
{"transform":[{"filter":"datum.k=='p'"}],"mark":{"type":"rule","clip":true},"encoding":{"x":{"field":"m","type":"quantitative","scale":{"domain":[2.0815,2.15],"nice":false,"zero":false},"axis":{"values":[2.085,2.09,2.095,2.1,2.105,2.11,2.115,2.12,2.125,2.13,2.135,2.14,2.145],"tickCount":100,"title":null,"format":".2~f","labelOverlap":false,"labelExpr":"datum.value==2.1||datum.value==2.12||datum.value==2.14 ? datum.label : ''","labelPadding":17,"tickSize":{"condition":{"test":"datum.value==2.1||datum.value==2.12||datum.value==2.14","value":-13},"value":-7}}},"y":{"field":"lo","type":"quantitative","scale":{"domain":[0.15,33],"nice":false,"zero":false},"axis":{"values":[2,4,6,8,10,12,14,16,18,20,22,24,26,28,30,32],"tickCount":100,"title":null,"labels":false,"labelOverlap":false,"tickSize":{"condition":{"test":"datum.value%10==0","value":-13},"value":-7}}},"y2":{"field":"hi"}}},
{"transform":[{"filter":"datum.k=='p'"},{"fold":["lo","hi"],"as":["b","e"]}],"mark":{"type":"tick","orient":"horizontal","clip":true},"encoding":{"x":{"field":"m","type":"quantitative"},"y":{"field":"e","type":"quantitative"}}},
{"transform":[{"filter":"datum.k=='p'"}],"mark":{"type":"point","shape":"M-1,0H1M-1,-0.6V0.6M1,-0.6V0.6M-0.73,0A0.73 0.73 0 1 0 0.73,0A0.73 0.73 0 1 0 -0.73,0Z","size":81,"fill":"#000000","stroke":"#000000","strokeWidth":1.3,"opacity":1},"encoding":{"x":{"field":"m","type":"quantitative"},"y":{"field":"n","type":"quantitative"}}},
{"transform":[{"filter":"datum.k=='c'"}],"mark":{"type":"line","interpolate":"monotone","strokeWidth":2.5,"clip":true},"encoding":{"x":{"field":"m","type":"quantitative"},"y":{"field":"v","type":"quantitative"},"color":{"field":"c","type":"nominal","scale":{"domain":["data","fit result","signal","bkg"],"range":["#000000","#ff0000","#ff00ff","#0000ff"]},"legend":null},"strokeDash":{"field":"c","type":"nominal","scale":{"domain":["data","fit result","signal","bkg"],"range":[[1,0],[1,0],[9,5],[9,5]]},"legend":null}}},
{"data":{"values":[{"t":"Group 5"}]},"mark":{"type":"text","align":"left","baseline":"alphabetic","fontSize":29},"encoding":{"x":{"datum":2.0857,"type":"quantitative"},"y":{"datum":27.7,"type":"quantitative"},"text":{"field":"t"}}},
{"data":{"values":[{"t":"M"}]},"mark":{"type":"text","align":"left","baseline":"alphabetic","fontSize":34,"fontStyle":"italic"},"encoding":{"x":{"datum":2.09074,"type":"quantitative"},"y":{"datum":-10.78,"type":"quantitative"},"text":{"field":"t"}}},
{"data":{"values":[{"t":"e⁺e⁻D"}]},"mark":{"type":"text","align":"left","baseline":"alphabetic","fontSize":22,"fontStyle":"italic"},"encoding":{"x":{"datum":2.09646,"type":"quantitative"},"y":{"datum":-12.39,"type":"quantitative"},"text":{"field":"t"}}},
{"data":{"values":[{"t":"s"}]},"mark":{"type":"text","align":"left","baseline":"alphabetic","fontSize":15,"fontStyle":"italic"},"encoding":{"x":{"datum":2.10692,"type":"quantitative"},"y":{"datum":-13.35,"type":"quantitative"},"text":{"field":"t"}}},
{"data":{"values":[{"t":"± rec"}]},"mark":{"type":"text","align":"left","baseline":"alphabetic","fontSize":15},"encoding":{"x":{"datum":2.10731,"type":"quantitative"},"y":{"datum":-10.46,"type":"quantitative"},"text":{"field":"t"}}},
{"data":{"values":[{"t":"(GeV/c²)"}]},"mark":{"type":"text","align":"left","baseline":"alphabetic","fontSize":34},"encoding":{"x":{"datum":2.11481,"type":"quantitative"},"y":{"datum":-10.78,"type":"quantitative"},"text":{"field":"t"}}}
]},
{"data":{"name":"leg"},"layer":[
{"mark":{"type":"text","align":"left","baseline":"middle","fontSize":22},"encoding":{"x":{"datum":2.1321,"type":"quantitative"},"y":{"field":"c","type":"nominal","scale":{"type":"point","domain":["data","fit result","signal","bkg"],"range":[23,97],"padding":0},"axis":null},"text":{"field":"c"},"color":{"field":"c","type":"nominal","legend":null}}},
{"transform":[{"filter":"datum.c!='data'"}],"mark":{"type":"rule","strokeWidth":2.5},"encoding":{"x":{"datum":2.1284,"type":"quantitative"},"x2":{"datum":2.1309},"y":{"field":"c","type":"nominal","axis":null},"color":{"field":"c","type":"nominal","legend":null},"strokeDash":{"field":"c","type":"nominal","scale":{"domain":["data","fit result","signal","bkg"],"range":[[1,0],[1,0],[4,4],[4,4]]},"legend":null}}},
{"transform":[{"filter":"datum.c=='data'"}],"mark":{"type":"point","shape":"M0,-1V1M-0.26,0A0.26 0.26 0 1 0 0.26,0A0.26 0.26 0 1 0 -0.26,0Z","size":625,"fill":"#000000","stroke":"#000000","strokeWidth":1.5,"opacity":1},"encoding":{"x":{"datum":2.1299,"type":"quantitative"},"y":{"field":"c","type":"nominal","axis":null}}}
]}
]}
],
"config":{
"view":{"stroke":"#000000","strokeWidth":1.5},
"axis":{"labelFont":"Liberation Serif","labelFontSize":25,"labelColor":"#000000","tickColor":"#000000","tickWidth":1.3,"domain":false,"grid":false,"labelOverlap":false,"labelFlush":false,"titleFont":"Liberation Serif","titleFontSize":31,"titleFontWeight":"normal","titleColor":"#000000"},
"rule":{"color":"#000000","strokeWidth":1.5},
"tick":{"color":"#000000","thickness":1.5,"size":6},
"text":{"font":"Liberation Serif","color":"#000000"}
}
}
